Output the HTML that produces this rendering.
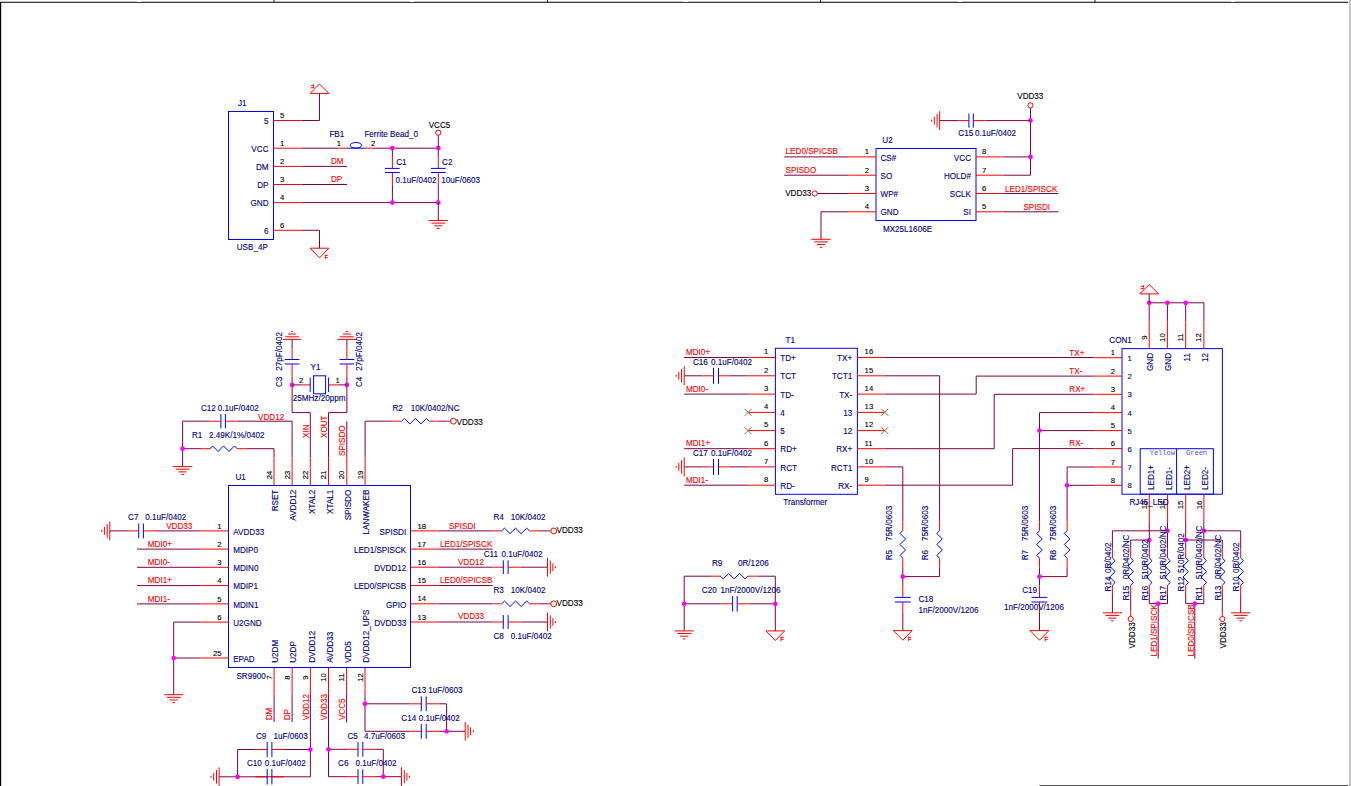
<!DOCTYPE html>
<html><head><meta charset="utf-8"><style>
html,body{margin:0;padding:0;background:#fff;overflow:hidden;}
svg{display:block;}
text{font-family:"Liberation Sans",sans-serif;}
</style></head><body>
<svg width="1351" height="786" viewBox="0 0 1351 786">
<rect width="1351" height="786" fill="#ffffff"/>
<rect x="0" y="1" width="1348" height="1" fill="#c4c4c4"/>
<rect x="0" y="2" width="1348" height="1" fill="#3a3a3a"/>
<rect x="137" y="1" width="4" height="1" fill="#ffffff"/>
<rect x="410" y="1" width="4" height="1" fill="#ffffff"/>
<rect x="683.5" y="1" width="4" height="1" fill="#ffffff"/>
<rect x="958" y="1" width="4" height="1" fill="#ffffff"/>
<rect x="1231" y="1" width="4" height="1" fill="#ffffff"/>
<line x1="0.5" y1="2" x2="0.5" y2="786" stroke="#000000" stroke-width="1.4"/>
<line x1="274" y1="0" x2="274" y2="2.5" stroke="#202020" stroke-width="1"/>
<line x1="547.5" y1="0" x2="547.5" y2="2.5" stroke="#202020" stroke-width="1"/>
<line x1="820.5" y1="0" x2="820.5" y2="2.5" stroke="#202020" stroke-width="1"/>
<line x1="1095" y1="0" x2="1095" y2="2.5" stroke="#202020" stroke-width="1"/>
<rect x="1349" y="0" width="2" height="786" fill="#c8c8c8"/>
<line x1="1039.5" y1="785.5" x2="1348" y2="785.5" stroke="#505050" stroke-width="1.2"/>
<rect x="228.5" y="111.5" width="45" height="128" fill="none" stroke="#0000ff" stroke-width="1"/>
<text transform="translate(238,105.8) scale(0.95,1)" fill="#000080" stroke="#000080" stroke-width="0.12" font-size="8.56">J1</text>
<text transform="translate(236.7,249.8) scale(0.95,1)" fill="#000080" stroke="#000080" stroke-width="0.12" font-size="8.56">USB_4P</text>
<line x1="274" y1="120.5" x2="301.5" y2="120.5" stroke="#ff0000" stroke-width="1"/>
<text transform="translate(280,118.0) scale(0.95,1)" fill="#000000" stroke="#000000" stroke-width="0.12" font-size="8.13">5</text>
<text transform="translate(268.5,124.1) scale(0.95,1)" fill="#000080" stroke="#000080" stroke-width="0.12" font-size="8.56" text-anchor="end">5</text>
<line x1="274" y1="148.2" x2="301.5" y2="148.2" stroke="#ff0000" stroke-width="1"/>
<text transform="translate(280,145.7) scale(0.95,1)" fill="#000000" stroke="#000000" stroke-width="0.12" font-size="8.13">1</text>
<text transform="translate(268.5,151.79999999999998) scale(0.95,1)" fill="#000080" stroke="#000080" stroke-width="0.12" font-size="8.56" text-anchor="end">VCC</text>
<line x1="274" y1="166.4" x2="301.5" y2="166.4" stroke="#ff0000" stroke-width="1"/>
<text transform="translate(280,163.9) scale(0.95,1)" fill="#000000" stroke="#000000" stroke-width="0.12" font-size="8.13">2</text>
<text transform="translate(268.5,170.0) scale(0.95,1)" fill="#000080" stroke="#000080" stroke-width="0.12" font-size="8.56" text-anchor="end">DM</text>
<line x1="274" y1="184.5" x2="301.5" y2="184.5" stroke="#ff0000" stroke-width="1"/>
<text transform="translate(280,182.0) scale(0.95,1)" fill="#000000" stroke="#000000" stroke-width="0.12" font-size="8.13">3</text>
<text transform="translate(268.5,188.1) scale(0.95,1)" fill="#000080" stroke="#000080" stroke-width="0.12" font-size="8.56" text-anchor="end">DP</text>
<line x1="274" y1="202.6" x2="301.5" y2="202.6" stroke="#ff0000" stroke-width="1"/>
<text transform="translate(280,200.1) scale(0.95,1)" fill="#000000" stroke="#000000" stroke-width="0.12" font-size="8.13">4</text>
<text transform="translate(268.5,206.2) scale(0.95,1)" fill="#000080" stroke="#000080" stroke-width="0.12" font-size="8.56" text-anchor="end">GND</text>
<line x1="274" y1="230.3" x2="301.5" y2="230.3" stroke="#ff0000" stroke-width="1"/>
<text transform="translate(280,227.8) scale(0.95,1)" fill="#000000" stroke="#000000" stroke-width="0.12" font-size="8.13">6</text>
<text transform="translate(268.5,233.9) scale(0.95,1)" fill="#000080" stroke="#000080" stroke-width="0.12" font-size="8.56" text-anchor="end">6</text>
<polyline points="301.5,120.5 319.5,120.5 319.5,93.4" fill="none" stroke="#800040" stroke-width="1"/>
<polygon points="310.1,93.4 328.9,93.4 319.5,84.0" fill="none" stroke="#ff0000" stroke-width="1"/>
<text transform="translate(314.5,84.4) rotate(180)" fill="#ff0000" font-size="6" stroke="#ff0000" stroke-width="0.3">F</text>
<polyline points="301.5,230.3 319.5,230.3 319.5,248.2" fill="none" stroke="#800040" stroke-width="1"/>
<polygon points="310.1,248.2 328.9,248.2 319.5,257.8" fill="none" stroke="#ff0000" stroke-width="1"/>
<text x="324.5" y="258.7" fill="#ff0000" font-size="6" stroke="#ff0000" stroke-width="0.3">F</text>
<line x1="301.5" y1="148.2" x2="337" y2="148.2" stroke="#800040" stroke-width="1"/>
<line x1="337" y1="148.2" x2="347" y2="148.2" stroke="#ff0000" stroke-width="1"/>
<line x1="347" y1="148.2" x2="365" y2="148.2" stroke="#0000ff" stroke-width="1"/>
<ellipse cx="355.9" cy="145.3" rx="5.7" ry="2.8" fill="none" stroke="#0000ff" stroke-width="1"/>
<line x1="365" y1="148.2" x2="375" y2="148.2" stroke="#ff0000" stroke-width="1"/>
<line x1="375" y1="148.2" x2="438.3" y2="148.2" stroke="#800040" stroke-width="1"/>
<text transform="translate(329.4,136.7) scale(0.95,1)" fill="#000080" stroke="#000080" stroke-width="0.12" font-size="8.56">FB1</text>
<text transform="translate(336.8,145.8) scale(0.95,1)" fill="#000000" stroke="#000000" stroke-width="0.12" font-size="8.13">1</text>
<text transform="translate(371,145.8) scale(0.95,1)" fill="#000000" stroke="#000000" stroke-width="0.12" font-size="8.13">2</text>
<text transform="translate(364.4,136.7) scale(0.95,1)" fill="#000080" stroke="#000080" stroke-width="0.12" font-size="8.56">Ferrite Bead_0</text>
<line x1="301.5" y1="166.4" x2="347" y2="166.4" stroke="#800040" stroke-width="1"/>
<text transform="translate(331,163.7) scale(0.95,1)" fill="#ff0000" stroke="#ff0000" stroke-width="0.12" font-size="8.56">DM</text>
<line x1="301.5" y1="184.5" x2="347" y2="184.5" stroke="#800040" stroke-width="1"/>
<text transform="translate(331,182.3) scale(0.95,1)" fill="#ff0000" stroke="#ff0000" stroke-width="0.12" font-size="8.56">DP</text>
<line x1="301.5" y1="202.6" x2="438.3" y2="202.6" stroke="#800040" stroke-width="1"/>
<line x1="392.4" y1="148.2" x2="392.4" y2="156" stroke="#800040" stroke-width="1"/>
<line x1="392.4" y1="156" x2="392.4" y2="168.4" stroke="#ff0000" stroke-width="1"/>
<line x1="385.0" y1="168.4" x2="399.79999999999995" y2="168.4" stroke="#0000ff" stroke-width="1"/>
<line x1="385.0" y1="172.5" x2="399.79999999999995" y2="172.5" stroke="#0000ff" stroke-width="1"/>
<line x1="392.4" y1="172.5" x2="392.4" y2="184.7" stroke="#ff0000" stroke-width="1"/>
<line x1="392.4" y1="184.7" x2="392.4" y2="202.6" stroke="#800040" stroke-width="1"/>
<circle cx="392.4" cy="148.2" r="2.35" fill="#ff00ff"/>
<circle cx="392.4" cy="202.6" r="2.35" fill="#ff00ff"/>
<text transform="translate(396.2,164.9) scale(0.95,1)" fill="#000080" stroke="#000080" stroke-width="0.12" font-size="8.56">C1</text>
<text transform="translate(395.4,182.8) scale(0.95,1)" fill="#000080" stroke="#000080" stroke-width="0.12" font-size="8.56">0.1uF/0402</text>
<line x1="438.3" y1="148.2" x2="438.3" y2="156" stroke="#800040" stroke-width="1"/>
<line x1="438.3" y1="156" x2="438.3" y2="168.4" stroke="#ff0000" stroke-width="1"/>
<line x1="430.90000000000003" y1="168.4" x2="445.7" y2="168.4" stroke="#0000ff" stroke-width="1"/>
<line x1="430.90000000000003" y1="172.5" x2="445.7" y2="172.5" stroke="#0000ff" stroke-width="1"/>
<line x1="438.3" y1="172.5" x2="438.3" y2="184.7" stroke="#ff0000" stroke-width="1"/>
<line x1="438.3" y1="184.7" x2="438.3" y2="202.6" stroke="#800040" stroke-width="1"/>
<circle cx="438.3" cy="148.2" r="2.35" fill="#ff00ff"/>
<circle cx="438.3" cy="202.6" r="2.35" fill="#ff00ff"/>
<text transform="translate(442.1,164.9) scale(0.95,1)" fill="#000080" stroke="#000080" stroke-width="0.12" font-size="8.56">C2</text>
<text transform="translate(441.3,182.8) scale(0.95,1)" fill="#000080" stroke="#000080" stroke-width="0.12" font-size="8.56">10uF/0603</text>
<line x1="438.3" y1="148.2" x2="438.3" y2="135.3" stroke="#800040" stroke-width="1"/>
<circle cx="438.3" cy="132.7" r="2.6" fill="none" stroke="#ff0000" stroke-width="1"/>
<text transform="translate(439.5,127.5) scale(0.95,1)" fill="#000000" stroke="#000000" stroke-width="0.12" font-size="8.56" text-anchor="middle">VCC5</text>
<line x1="438.3" y1="202.6" x2="438.3" y2="220.5" stroke="#800040" stroke-width="1"/>
<line x1="428.7" y1="220.5" x2="447.90000000000003" y2="220.5" stroke="#ff0000" stroke-width="1"/>
<line x1="431.40000000000003" y1="223.1" x2="445.2" y2="223.1" stroke="#ff0000" stroke-width="1"/>
<line x1="434.3" y1="225.8" x2="442.3" y2="225.8" stroke="#ff0000" stroke-width="1"/>
<line x1="437.0" y1="228.5" x2="439.6" y2="228.5" stroke="#ff0000" stroke-width="1"/>
<rect x="876" y="148.5" width="100" height="72" fill="none" stroke="#0000ff" stroke-width="1"/>
<text transform="translate(882.3,142.6) scale(0.95,1)" fill="#000080" stroke="#000080" stroke-width="0.12" font-size="8.56">U2</text>
<text transform="translate(882.9,231.6) scale(0.95,1)" fill="#000080" stroke="#000080" stroke-width="0.12" font-size="8.56">MX25L1606E</text>
<line x1="848.3" y1="156.9" x2="876" y2="156.9" stroke="#ff0000" stroke-width="1"/>
<text transform="translate(869,154.4) scale(0.95,1)" fill="#000000" stroke="#000000" stroke-width="0.12" font-size="8.13" text-anchor="end">1</text>
<text transform="translate(880.5,160.5) scale(0.95,1)" fill="#000080" stroke="#000080" stroke-width="0.12" font-size="8.56">CS#</text>
<line x1="848.3" y1="175.2" x2="876" y2="175.2" stroke="#ff0000" stroke-width="1"/>
<text transform="translate(869,172.7) scale(0.95,1)" fill="#000000" stroke="#000000" stroke-width="0.12" font-size="8.13" text-anchor="end">2</text>
<text transform="translate(880.5,178.79999999999998) scale(0.95,1)" fill="#000080" stroke="#000080" stroke-width="0.12" font-size="8.56">SO</text>
<line x1="848.3" y1="193.5" x2="876" y2="193.5" stroke="#ff0000" stroke-width="1"/>
<text transform="translate(869,191.0) scale(0.95,1)" fill="#000000" stroke="#000000" stroke-width="0.12" font-size="8.13" text-anchor="end">3</text>
<text transform="translate(880.5,197.1) scale(0.95,1)" fill="#000080" stroke="#000080" stroke-width="0.12" font-size="8.56">WP#</text>
<line x1="848.3" y1="211.8" x2="876" y2="211.8" stroke="#ff0000" stroke-width="1"/>
<text transform="translate(869,209.3) scale(0.95,1)" fill="#000000" stroke="#000000" stroke-width="0.12" font-size="8.13" text-anchor="end">4</text>
<text transform="translate(880.5,215.4) scale(0.95,1)" fill="#000080" stroke="#000080" stroke-width="0.12" font-size="8.56">GND</text>
<line x1="976" y1="156.9" x2="1003.5" y2="156.9" stroke="#ff0000" stroke-width="1"/>
<text transform="translate(982,154.4) scale(0.95,1)" fill="#000000" stroke="#000000" stroke-width="0.12" font-size="8.13">8</text>
<text transform="translate(971,160.5) scale(0.95,1)" fill="#000080" stroke="#000080" stroke-width="0.12" font-size="8.56" text-anchor="end">VCC</text>
<line x1="976" y1="175.2" x2="1003.5" y2="175.2" stroke="#ff0000" stroke-width="1"/>
<text transform="translate(982,172.7) scale(0.95,1)" fill="#000000" stroke="#000000" stroke-width="0.12" font-size="8.13">7</text>
<text transform="translate(971,178.79999999999998) scale(0.95,1)" fill="#000080" stroke="#000080" stroke-width="0.12" font-size="8.56" text-anchor="end">HOLD#</text>
<line x1="976" y1="193.5" x2="1003.5" y2="193.5" stroke="#ff0000" stroke-width="1"/>
<text transform="translate(982,191.0) scale(0.95,1)" fill="#000000" stroke="#000000" stroke-width="0.12" font-size="8.13">6</text>
<text transform="translate(971,197.1) scale(0.95,1)" fill="#000080" stroke="#000080" stroke-width="0.12" font-size="8.56" text-anchor="end">SCLK</text>
<line x1="976" y1="211.8" x2="1003.5" y2="211.8" stroke="#ff0000" stroke-width="1"/>
<text transform="translate(982,209.3) scale(0.95,1)" fill="#000000" stroke="#000000" stroke-width="0.12" font-size="8.13">5</text>
<text transform="translate(971,215.4) scale(0.95,1)" fill="#000080" stroke="#000080" stroke-width="0.12" font-size="8.56" text-anchor="end">SI</text>
<line x1="784.2" y1="156.9" x2="848.3" y2="156.9" stroke="#800040" stroke-width="1"/>
<text transform="translate(785.6,154.2) scale(0.95,1)" fill="#ff0000" stroke="#ff0000" stroke-width="0.12" font-size="8.56">LED0/SPICSB</text>
<line x1="784.2" y1="175.2" x2="848.3" y2="175.2" stroke="#800040" stroke-width="1"/>
<text transform="translate(785.6,172.5) scale(0.95,1)" fill="#ff0000" stroke="#ff0000" stroke-width="0.12" font-size="8.56">SPISDO</text>
<circle cx="814.7" cy="193.5" r="2.6" fill="none" stroke="#ff0000" stroke-width="1"/>
<line x1="817.3" y1="193.5" x2="848.3" y2="193.5" stroke="#800040" stroke-width="1"/>
<text transform="translate(785.2,196) scale(0.95,1)" fill="#000000" stroke="#000000" stroke-width="0.12" font-size="8.56">VDD33</text>
<polyline points="848.3,211.8 821,211.8 821,239.3" fill="none" stroke="#800040" stroke-width="1"/>
<line x1="811.4" y1="239.3" x2="830.6" y2="239.3" stroke="#ff0000" stroke-width="1"/>
<line x1="814.1" y1="241.9" x2="827.9" y2="241.9" stroke="#ff0000" stroke-width="1"/>
<line x1="817.0" y1="244.60000000000002" x2="825.0" y2="244.60000000000002" stroke="#ff0000" stroke-width="1"/>
<line x1="819.7" y1="247.3" x2="822.3" y2="247.3" stroke="#ff0000" stroke-width="1"/>
<line x1="1003.5" y1="156.9" x2="1030.5" y2="156.9" stroke="#800040" stroke-width="1"/>
<polyline points="1003.5,175.2 1030.5,175.2 1030.5,108" fill="none" stroke="#800040" stroke-width="1"/>
<circle cx="1030.5" cy="156.9" r="2.35" fill="#ff00ff"/>
<circle cx="1030.5" cy="120.6" r="2.35" fill="#ff00ff"/>
<circle cx="1030.5" cy="105.4" r="2.6" fill="none" stroke="#ff0000" stroke-width="1"/>
<text transform="translate(1030.3,98.8) scale(0.95,1)" fill="#000000" stroke="#000000" stroke-width="0.12" font-size="8.56" text-anchor="middle">VDD33</text>
<line x1="1003.5" y1="193.5" x2="1058.4" y2="193.5" stroke="#800040" stroke-width="1"/>
<text transform="translate(1005,191.9) scale(0.95,1)" fill="#ff0000" stroke="#ff0000" stroke-width="0.12" font-size="8.56">LED1/SPISCK</text>
<line x1="1003.5" y1="211.8" x2="1058.4" y2="211.8" stroke="#800040" stroke-width="1"/>
<text transform="translate(1023.4,209.6) scale(0.95,1)" fill="#ff0000" stroke="#ff0000" stroke-width="0.12" font-size="8.56">SPISDI</text>
<line x1="1030.5" y1="120.6" x2="985.5" y2="120.6" stroke="#800040" stroke-width="1"/>
<line x1="985.5" y1="120.6" x2="973.3" y2="120.6" stroke="#ff0000" stroke-width="1"/>
<line x1="968.9" y1="113.5" x2="968.9" y2="127.69999999999999" stroke="#0000ff" stroke-width="1"/>
<line x1="973.3" y1="113.5" x2="973.3" y2="127.69999999999999" stroke="#0000ff" stroke-width="1"/>
<line x1="968.9" y1="120.6" x2="957.7" y2="120.6" stroke="#ff0000" stroke-width="1"/>
<line x1="957.7" y1="120.6" x2="939.7" y2="120.6" stroke="#800040" stroke-width="1"/>
<line x1="939.7" y1="111.19999999999999" x2="939.7" y2="130.0" stroke="#ff0000" stroke-width="1"/>
<line x1="937.1" y1="113.8" x2="937.1" y2="127.39999999999999" stroke="#ff0000" stroke-width="1"/>
<line x1="934.3000000000001" y1="116.69999999999999" x2="934.3000000000001" y2="124.5" stroke="#ff0000" stroke-width="1"/>
<line x1="931.6" y1="119.6" x2="931.6" y2="121.6" stroke="#ff0000" stroke-width="1"/>
<text transform="translate(958.3,136.3) scale(0.95,1)" fill="#000080" stroke="#000080" stroke-width="0.12" font-size="8.56">C15</text>
<text transform="translate(975,136.3) scale(0.95,1)" fill="#000080" stroke="#000080" stroke-width="0.12" font-size="8.56">0.1uF/0402</text>
<rect x="228.5" y="485.5" width="182" height="182" fill="none" stroke="#0000ff" stroke-width="1"/>
<text transform="translate(235.5,479.7) scale(0.95,1)" fill="#000080" stroke="#000080" stroke-width="0.12" font-size="8.56">U1</text>
<text transform="translate(236.4,679.3) scale(0.95,1)" fill="#000080" stroke="#000080" stroke-width="0.12" font-size="8.56">SR9900</text>
<line x1="200.8" y1="530.9" x2="228.5" y2="530.9" stroke="#ff0000" stroke-width="1"/>
<text transform="translate(221.5,528.5) scale(0.95,1)" fill="#000000" stroke="#000000" stroke-width="0.12" font-size="8.13" text-anchor="end">1</text>
<text transform="translate(233.2,534.6) scale(0.95,1)" fill="#000080" stroke="#000080" stroke-width="0.12" font-size="8.56">AVDD33</text>
<line x1="200.8" y1="549.1" x2="228.5" y2="549.1" stroke="#ff0000" stroke-width="1"/>
<text transform="translate(221.5,546.7) scale(0.95,1)" fill="#000000" stroke="#000000" stroke-width="0.12" font-size="8.13" text-anchor="end">2</text>
<text transform="translate(233.2,552.8000000000001) scale(0.95,1)" fill="#000080" stroke="#000080" stroke-width="0.12" font-size="8.56">MDIP0</text>
<line x1="200.8" y1="567.3" x2="228.5" y2="567.3" stroke="#ff0000" stroke-width="1"/>
<text transform="translate(221.5,564.9) scale(0.95,1)" fill="#000000" stroke="#000000" stroke-width="0.12" font-size="8.13" text-anchor="end">3</text>
<text transform="translate(233.2,571.0) scale(0.95,1)" fill="#000080" stroke="#000080" stroke-width="0.12" font-size="8.56">MDIN0</text>
<line x1="200.8" y1="585.6" x2="228.5" y2="585.6" stroke="#ff0000" stroke-width="1"/>
<text transform="translate(221.5,583.2) scale(0.95,1)" fill="#000000" stroke="#000000" stroke-width="0.12" font-size="8.13" text-anchor="end">4</text>
<text transform="translate(233.2,589.3000000000001) scale(0.95,1)" fill="#000080" stroke="#000080" stroke-width="0.12" font-size="8.56">MDIP1</text>
<line x1="200.8" y1="603.9" x2="228.5" y2="603.9" stroke="#ff0000" stroke-width="1"/>
<text transform="translate(221.5,601.5) scale(0.95,1)" fill="#000000" stroke="#000000" stroke-width="0.12" font-size="8.13" text-anchor="end">5</text>
<text transform="translate(233.2,607.6) scale(0.95,1)" fill="#000080" stroke="#000080" stroke-width="0.12" font-size="8.56">MDIN1</text>
<line x1="200.8" y1="622.1" x2="228.5" y2="622.1" stroke="#ff0000" stroke-width="1"/>
<text transform="translate(221.5,619.7) scale(0.95,1)" fill="#000000" stroke="#000000" stroke-width="0.12" font-size="8.13" text-anchor="end">6</text>
<text transform="translate(233.2,625.8000000000001) scale(0.95,1)" fill="#000080" stroke="#000080" stroke-width="0.12" font-size="8.56">U2GND</text>
<line x1="200.8" y1="658" x2="228.5" y2="658" stroke="#ff0000" stroke-width="1"/>
<text transform="translate(221.5,655.6) scale(0.95,1)" fill="#000000" stroke="#000000" stroke-width="0.12" font-size="8.13" text-anchor="end">25</text>
<text transform="translate(233.2,661.7) scale(0.95,1)" fill="#000080" stroke="#000080" stroke-width="0.12" font-size="8.56">EPAD</text>
<line x1="411" y1="530.9" x2="438.3" y2="530.9" stroke="#ff0000" stroke-width="1"/>
<text transform="translate(417.5,528.5) scale(0.95,1)" fill="#000000" stroke="#000000" stroke-width="0.12" font-size="8.13">18</text>
<text transform="translate(406.2,534.6) scale(0.95,1)" fill="#000080" stroke="#000080" stroke-width="0.12" font-size="8.56" text-anchor="end">SPISDI</text>
<line x1="411" y1="549.1" x2="438.3" y2="549.1" stroke="#ff0000" stroke-width="1"/>
<text transform="translate(417.5,546.7) scale(0.95,1)" fill="#000000" stroke="#000000" stroke-width="0.12" font-size="8.13">17</text>
<text transform="translate(406.2,552.8000000000001) scale(0.95,1)" fill="#000080" stroke="#000080" stroke-width="0.12" font-size="8.56" text-anchor="end">LED1/SPISCK</text>
<line x1="411" y1="567.2" x2="438.3" y2="567.2" stroke="#ff0000" stroke-width="1"/>
<text transform="translate(417.5,564.8000000000001) scale(0.95,1)" fill="#000000" stroke="#000000" stroke-width="0.12" font-size="8.13">16</text>
<text transform="translate(406.2,570.9000000000001) scale(0.95,1)" fill="#000080" stroke="#000080" stroke-width="0.12" font-size="8.56" text-anchor="end">DVDD12</text>
<line x1="411" y1="585.5" x2="438.3" y2="585.5" stroke="#ff0000" stroke-width="1"/>
<text transform="translate(417.5,583.1) scale(0.95,1)" fill="#000000" stroke="#000000" stroke-width="0.12" font-size="8.13">15</text>
<text transform="translate(406.2,589.2) scale(0.95,1)" fill="#000080" stroke="#000080" stroke-width="0.12" font-size="8.56" text-anchor="end">LED0/SPICSB</text>
<line x1="411" y1="603.8" x2="438.3" y2="603.8" stroke="#ff0000" stroke-width="1"/>
<text transform="translate(417.5,601.4) scale(0.95,1)" fill="#000000" stroke="#000000" stroke-width="0.12" font-size="8.13">14</text>
<text transform="translate(406.2,607.5) scale(0.95,1)" fill="#000080" stroke="#000080" stroke-width="0.12" font-size="8.56" text-anchor="end">GPIO</text>
<line x1="411" y1="622" x2="438.3" y2="622" stroke="#ff0000" stroke-width="1"/>
<text transform="translate(417.5,619.6) scale(0.95,1)" fill="#000000" stroke="#000000" stroke-width="0.12" font-size="8.13">13</text>
<text transform="translate(406.2,625.7) scale(0.95,1)" fill="#000080" stroke="#000080" stroke-width="0.12" font-size="8.56" text-anchor="end">DVDD33</text>
<line x1="274" y1="457.4" x2="274" y2="485.5" stroke="#ff0000" stroke-width="1"/>
<text transform="translate(271.5,479.3) rotate(-90) scale(0.95,1)" fill="#000000" stroke="#000000" stroke-width="0.12" font-size="8.13">24</text>
<text transform="translate(278.2,489.7) rotate(-90) scale(0.95,1)" fill="#000080" stroke="#000080" stroke-width="0.12" font-size="8.56" text-anchor="end">RSET</text>
<line x1="292.1" y1="457.4" x2="292.1" y2="485.5" stroke="#ff0000" stroke-width="1"/>
<text transform="translate(289.6,479.3) rotate(-90) scale(0.95,1)" fill="#000000" stroke="#000000" stroke-width="0.12" font-size="8.13">23</text>
<text transform="translate(296.3,489.7) rotate(-90) scale(0.95,1)" fill="#000080" stroke="#000080" stroke-width="0.12" font-size="8.56" text-anchor="end">AVDD12</text>
<line x1="310.3" y1="457.4" x2="310.3" y2="485.5" stroke="#ff0000" stroke-width="1"/>
<text transform="translate(307.8,479.3) rotate(-90) scale(0.95,1)" fill="#000000" stroke="#000000" stroke-width="0.12" font-size="8.13">22</text>
<text transform="translate(314.5,489.7) rotate(-90) scale(0.95,1)" fill="#000080" stroke="#000080" stroke-width="0.12" font-size="8.56" text-anchor="end">XTAL2</text>
<line x1="328.5" y1="457.4" x2="328.5" y2="485.5" stroke="#ff0000" stroke-width="1"/>
<text transform="translate(326.0,479.3) rotate(-90) scale(0.95,1)" fill="#000000" stroke="#000000" stroke-width="0.12" font-size="8.13">21</text>
<text transform="translate(332.7,489.7) rotate(-90) scale(0.95,1)" fill="#000080" stroke="#000080" stroke-width="0.12" font-size="8.56" text-anchor="end">XTAL1</text>
<line x1="346.8" y1="457.4" x2="346.8" y2="485.5" stroke="#ff0000" stroke-width="1"/>
<text transform="translate(344.3,479.3) rotate(-90) scale(0.95,1)" fill="#000000" stroke="#000000" stroke-width="0.12" font-size="8.13">20</text>
<text transform="translate(351.0,489.7) rotate(-90) scale(0.95,1)" fill="#000080" stroke="#000080" stroke-width="0.12" font-size="8.56" text-anchor="end">SPISDO</text>
<line x1="365.1" y1="457.4" x2="365.1" y2="485.5" stroke="#ff0000" stroke-width="1"/>
<text transform="translate(362.6,479.3) rotate(-90) scale(0.95,1)" fill="#000000" stroke="#000000" stroke-width="0.12" font-size="8.13">19</text>
<text transform="translate(369.3,489.7) rotate(-90) scale(0.95,1)" fill="#000080" stroke="#000080" stroke-width="0.12" font-size="8.56" text-anchor="end">LANWAKEB</text>
<line x1="274.1" y1="667.5" x2="274.1" y2="695" stroke="#ff0000" stroke-width="1"/>
<text transform="translate(271.90000000000003,677.5) rotate(-90) scale(0.95,1)" fill="#000000" stroke="#000000" stroke-width="0.12" font-size="8.13" text-anchor="middle">7</text>
<text transform="translate(278.3,662.8) rotate(-90) scale(0.95,1)" fill="#000080" stroke="#000080" stroke-width="0.12" font-size="8.56">U2DM</text>
<line x1="292.1" y1="667.5" x2="292.1" y2="695" stroke="#ff0000" stroke-width="1"/>
<text transform="translate(289.90000000000003,677.5) rotate(-90) scale(0.95,1)" fill="#000000" stroke="#000000" stroke-width="0.12" font-size="8.13" text-anchor="middle">8</text>
<text transform="translate(296.3,662.8) rotate(-90) scale(0.95,1)" fill="#000080" stroke="#000080" stroke-width="0.12" font-size="8.56">U2DP</text>
<line x1="310.4" y1="667.5" x2="310.4" y2="695" stroke="#ff0000" stroke-width="1"/>
<text transform="translate(308.2,677.5) rotate(-90) scale(0.95,1)" fill="#000000" stroke="#000000" stroke-width="0.12" font-size="8.13" text-anchor="middle">9</text>
<text transform="translate(314.59999999999997,662.8) rotate(-90) scale(0.95,1)" fill="#000080" stroke="#000080" stroke-width="0.12" font-size="8.56">DVDD12</text>
<line x1="328.5" y1="667.5" x2="328.5" y2="695" stroke="#ff0000" stroke-width="1"/>
<text transform="translate(326.3,677.5) rotate(-90) scale(0.95,1)" fill="#000000" stroke="#000000" stroke-width="0.12" font-size="8.13" text-anchor="middle">10</text>
<text transform="translate(332.7,662.8) rotate(-90) scale(0.95,1)" fill="#000080" stroke="#000080" stroke-width="0.12" font-size="8.56">AVDD33</text>
<line x1="346.6" y1="667.5" x2="346.6" y2="695" stroke="#ff0000" stroke-width="1"/>
<text transform="translate(344.40000000000003,677.5) rotate(-90) scale(0.95,1)" fill="#000000" stroke="#000000" stroke-width="0.12" font-size="8.13" text-anchor="middle">11</text>
<text transform="translate(350.8,662.8) rotate(-90) scale(0.95,1)" fill="#000080" stroke="#000080" stroke-width="0.12" font-size="8.56">VDD5</text>
<line x1="365" y1="667.5" x2="365" y2="695" stroke="#ff0000" stroke-width="1"/>
<text transform="translate(362.8,677.5) rotate(-90) scale(0.95,1)" fill="#000000" stroke="#000000" stroke-width="0.12" font-size="8.13" text-anchor="middle">12</text>
<text transform="translate(369.2,662.8) rotate(-90) scale(0.95,1)" fill="#000080" stroke="#000080" stroke-width="0.12" font-size="8.56">DVDD12_UPS</text>
<line x1="200.8" y1="530.9" x2="156" y2="530.9" stroke="#800040" stroke-width="1"/>
<line x1="156" y1="530.9" x2="143.4" y2="530.9" stroke="#ff0000" stroke-width="1"/>
<line x1="138.7" y1="523.4499999999999" x2="138.7" y2="538.35" stroke="#0000ff" stroke-width="1"/>
<line x1="143.4" y1="523.4499999999999" x2="143.4" y2="538.35" stroke="#0000ff" stroke-width="1"/>
<line x1="138.7" y1="530.9" x2="128.1" y2="530.9" stroke="#ff0000" stroke-width="1"/>
<line x1="128.1" y1="530.9" x2="109.8" y2="530.9" stroke="#800040" stroke-width="1"/>
<line x1="109.8" y1="521.5" x2="109.8" y2="540.3" stroke="#ff0000" stroke-width="1"/>
<line x1="107.2" y1="524.1" x2="107.2" y2="537.6999999999999" stroke="#ff0000" stroke-width="1"/>
<line x1="104.39999999999999" y1="527.0" x2="104.39999999999999" y2="534.8" stroke="#ff0000" stroke-width="1"/>
<line x1="101.7" y1="529.9" x2="101.7" y2="531.9" stroke="#ff0000" stroke-width="1"/>
<text transform="translate(128.1,519.9) scale(0.95,1)" fill="#000080" stroke="#000080" stroke-width="0.12" font-size="8.56">C7</text>
<text transform="translate(145.2,519.9) scale(0.95,1)" fill="#000080" stroke="#000080" stroke-width="0.12" font-size="8.56">0.1uF/0402</text>
<text transform="translate(166.2,528.6) scale(0.95,1)" fill="#ff0000" stroke="#ff0000" stroke-width="0.12" font-size="8.56">VDD33</text>
<line x1="137" y1="549.1" x2="200.8" y2="549.1" stroke="#800040" stroke-width="1"/>
<text transform="translate(147.8,546.8000000000001) scale(0.95,1)" fill="#ff0000" stroke="#ff0000" stroke-width="0.12" font-size="8.56">MDI0+</text>
<line x1="137" y1="567.3" x2="200.8" y2="567.3" stroke="#800040" stroke-width="1"/>
<text transform="translate(147.8,565.0) scale(0.95,1)" fill="#ff0000" stroke="#ff0000" stroke-width="0.12" font-size="8.56">MDI0-</text>
<line x1="137" y1="585.6" x2="200.8" y2="585.6" stroke="#800040" stroke-width="1"/>
<text transform="translate(147.8,583.3000000000001) scale(0.95,1)" fill="#ff0000" stroke="#ff0000" stroke-width="0.12" font-size="8.56">MDI1+</text>
<line x1="137" y1="603.9" x2="200.8" y2="603.9" stroke="#800040" stroke-width="1"/>
<text transform="translate(147.8,601.6) scale(0.95,1)" fill="#ff0000" stroke="#ff0000" stroke-width="0.12" font-size="8.56">MDI1-</text>
<polyline points="200.8,622.1 173.7,622.1 173.7,694.7" fill="none" stroke="#800040" stroke-width="1"/>
<line x1="200.8" y1="658" x2="173.7" y2="658" stroke="#800040" stroke-width="1"/>
<circle cx="173.7" cy="658" r="2.35" fill="#ff00ff"/>
<line x1="164.1" y1="694.7" x2="183.29999999999998" y2="694.7" stroke="#ff0000" stroke-width="1"/>
<line x1="166.79999999999998" y1="697.3000000000001" x2="180.6" y2="697.3000000000001" stroke="#ff0000" stroke-width="1"/>
<line x1="169.7" y1="700.0" x2="177.7" y2="700.0" stroke="#ff0000" stroke-width="1"/>
<line x1="172.39999999999998" y1="702.7" x2="175.0" y2="702.7" stroke="#ff0000" stroke-width="1"/>
<polyline points="274,457.4 274,448.7 247,448.7" fill="none" stroke="#800040" stroke-width="1"/>
<line x1="247" y1="448.7" x2="237.2" y2="448.7" stroke="#ff0000" stroke-width="1"/>
<polyline points="209.9,448.7 212.63,445.95 218.09,451.45 223.55,445.95 229.01,451.45 234.47,445.95 237.20000000000002,448.7" fill="none" stroke="#0000ff" stroke-width="1"/>
<line x1="210.7" y1="448.7" x2="201" y2="448.7" stroke="#ff0000" stroke-width="1"/>
<line x1="201" y1="448.7" x2="182.6" y2="448.7" stroke="#800040" stroke-width="1"/>
<polyline points="292.1,457.4 292.1,421.2 237.2,421.2" fill="none" stroke="#800040" stroke-width="1"/>
<line x1="237.2" y1="421.2" x2="225.4" y2="421.2" stroke="#ff0000" stroke-width="1"/>
<line x1="220.9" y1="414.0" x2="220.9" y2="428.4" stroke="#0000ff" stroke-width="1"/>
<line x1="225.4" y1="414.0" x2="225.4" y2="428.4" stroke="#0000ff" stroke-width="1"/>
<line x1="220.9" y1="421.2" x2="209.7" y2="421.2" stroke="#ff0000" stroke-width="1"/>
<polyline points="209.7,421.2 182.6,421.2 182.6,466.6" fill="none" stroke="#800040" stroke-width="1"/>
<circle cx="182.6" cy="448.7" r="2.35" fill="#ff00ff"/>
<line x1="173.0" y1="466.6" x2="192.2" y2="466.6" stroke="#ff0000" stroke-width="1"/>
<line x1="175.7" y1="469.20000000000005" x2="189.5" y2="469.20000000000005" stroke="#ff0000" stroke-width="1"/>
<line x1="178.6" y1="471.90000000000003" x2="186.6" y2="471.90000000000003" stroke="#ff0000" stroke-width="1"/>
<line x1="181.29999999999998" y1="474.6" x2="183.9" y2="474.6" stroke="#ff0000" stroke-width="1"/>
<text transform="translate(201,410.6) scale(0.95,1)" fill="#000080" stroke="#000080" stroke-width="0.12" font-size="8.56">C12</text>
<text transform="translate(217.8,410.6) scale(0.95,1)" fill="#000080" stroke="#000080" stroke-width="0.12" font-size="8.56">0.1uF/0402</text>
<text transform="translate(258,419.7) scale(0.95,1)" fill="#ff0000" stroke="#ff0000" stroke-width="0.12" font-size="8.56">VDD12</text>
<text transform="translate(192,437.7) scale(0.95,1)" fill="#000080" stroke="#000080" stroke-width="0.12" font-size="8.56">R1</text>
<text transform="translate(209,437.7) scale(0.95,1)" fill="#000080" stroke="#000080" stroke-width="0.12" font-size="8.56">2.49K/1%/0402</text>
<polyline points="310.3,457.4 310.3,412.6 292.1,412.6 292.1,384.9" fill="none" stroke="#800040" stroke-width="1"/>
<polyline points="328.5,457.4 328.5,412.6 346.9,412.6 346.9,384.9" fill="none" stroke="#800040" stroke-width="1"/>
<text transform="translate(308.5,438) rotate(-90) scale(0.95,1)" fill="#ff0000" stroke="#ff0000" stroke-width="0.12" font-size="8.56">XIN</text>
<text transform="translate(327.4,438) rotate(-90) scale(0.95,1)" fill="#ff0000" stroke="#ff0000" stroke-width="0.12" font-size="8.56">XOUT</text>
<line x1="346.8" y1="457.4" x2="346.8" y2="421.2" stroke="#800040" stroke-width="1"/>
<text transform="translate(344.9,456) rotate(-90) scale(0.95,1)" fill="#ff0000" stroke="#ff0000" stroke-width="0.12" font-size="8.56">SPISDO</text>
<polyline points="365.1,457.4 365.1,421.2 392.4,421.2" fill="none" stroke="#800040" stroke-width="1"/>
<line x1="392.4" y1="421.2" x2="401.6" y2="421.2" stroke="#ff0000" stroke-width="1"/>
<polyline points="401.6,421.2 404.36,418.45 409.88,423.95 415.4,418.45 420.92,423.95 426.44,418.45 429.20000000000005,421.2" fill="none" stroke="#0000ff" stroke-width="1"/>
<line x1="429.2" y1="421.2" x2="438.2" y2="421.2" stroke="#ff0000" stroke-width="1"/>
<line x1="438.2" y1="421.2" x2="447.5" y2="421.2" stroke="#800040" stroke-width="1"/>
<line x1="447.5" y1="421.2" x2="450.6" y2="421.2" stroke="#ff0000" stroke-width="1"/>
<circle cx="453.4" cy="421.2" r="2.9" fill="none" stroke="#ff0000" stroke-width="1"/>
<text transform="translate(456.5,424.8) scale(0.95,1)" fill="#000000" stroke="#000000" stroke-width="0.12" font-size="8.56">VDD33</text>
<text transform="translate(392.4,410.6) scale(0.95,1)" fill="#000080" stroke="#000080" stroke-width="0.12" font-size="8.56">R2</text>
<text transform="translate(410.8,410.6) scale(0.95,1)" fill="#000080" stroke="#000080" stroke-width="0.12" font-size="8.56">10K/0402/NC</text>
<line x1="292.1" y1="339.4" x2="292.1" y2="348.7" stroke="#800040" stroke-width="1"/>
<line x1="292.1" y1="348.7" x2="292.1" y2="359.5" stroke="#ff0000" stroke-width="1"/>
<line x1="284.75" y1="359.5" x2="299.45000000000005" y2="359.5" stroke="#0000ff" stroke-width="1"/>
<line x1="284.75" y1="364" x2="299.45000000000005" y2="364" stroke="#0000ff" stroke-width="1"/>
<line x1="292.1" y1="364" x2="292.1" y2="376.4" stroke="#ff0000" stroke-width="1"/>
<line x1="292.1" y1="376.4" x2="292.1" y2="384.9" stroke="#800040" stroke-width="1"/>
<line x1="282.75" y1="339.4" x2="301.45000000000005" y2="339.4" stroke="#ff0000" stroke-width="1"/>
<line x1="285.3" y1="336.79999999999995" x2="298.90000000000003" y2="336.79999999999995" stroke="#ff0000" stroke-width="1"/>
<line x1="288.1" y1="334.0" x2="296.1" y2="334.0" stroke="#ff0000" stroke-width="1"/>
<line x1="291.1" y1="331.4" x2="293.1" y2="331.4" stroke="#ff0000" stroke-width="1"/>
<circle cx="292.1" cy="384.9" r="2.35" fill="#ff00ff"/>
<line x1="346.9" y1="339.4" x2="346.9" y2="348.7" stroke="#800040" stroke-width="1"/>
<line x1="346.9" y1="348.7" x2="346.9" y2="359.5" stroke="#ff0000" stroke-width="1"/>
<line x1="339.54999999999995" y1="359.5" x2="354.25" y2="359.5" stroke="#0000ff" stroke-width="1"/>
<line x1="339.54999999999995" y1="364" x2="354.25" y2="364" stroke="#0000ff" stroke-width="1"/>
<line x1="346.9" y1="364" x2="346.9" y2="376.4" stroke="#ff0000" stroke-width="1"/>
<line x1="346.9" y1="376.4" x2="346.9" y2="384.9" stroke="#800040" stroke-width="1"/>
<line x1="337.54999999999995" y1="339.4" x2="356.25" y2="339.4" stroke="#ff0000" stroke-width="1"/>
<line x1="340.09999999999997" y1="336.79999999999995" x2="353.7" y2="336.79999999999995" stroke="#ff0000" stroke-width="1"/>
<line x1="342.9" y1="334.0" x2="350.9" y2="334.0" stroke="#ff0000" stroke-width="1"/>
<line x1="345.9" y1="331.4" x2="347.9" y2="331.4" stroke="#ff0000" stroke-width="1"/>
<circle cx="346.9" cy="384.9" r="2.35" fill="#ff00ff"/>
<text transform="translate(282.2,387) rotate(-90) scale(0.95,1)" fill="#000080" stroke="#000080" stroke-width="0.12" font-size="8.56">C3</text>
<text transform="translate(282.2,370.8) rotate(-90) scale(0.95,1)" fill="#000080" stroke="#000080" stroke-width="0.12" font-size="8.56">27pF/0402</text>
<text transform="translate(361.8,387) rotate(-90) scale(0.95,1)" fill="#000080" stroke="#000080" stroke-width="0.12" font-size="8.56">C4</text>
<text transform="translate(361.8,370.8) rotate(-90) scale(0.95,1)" fill="#000080" stroke="#000080" stroke-width="0.12" font-size="8.56">27pF/0402</text>
<line x1="292.1" y1="384.9" x2="301.1" y2="384.9" stroke="#800040" stroke-width="1"/>
<line x1="301.1" y1="384.9" x2="310.2" y2="384.9" stroke="#ff0000" stroke-width="1"/>
<line x1="310.2" y1="377.5" x2="310.2" y2="392" stroke="#0000ff" stroke-width="1"/>
<rect x="313.6" y="375.8" width="12" height="18" fill="none" stroke="#0000ff" stroke-width="1"/>
<line x1="328.6" y1="377.5" x2="328.6" y2="392" stroke="#0000ff" stroke-width="1"/>
<line x1="328.6" y1="384.9" x2="337.8" y2="384.9" stroke="#ff0000" stroke-width="1"/>
<line x1="337.8" y1="384.9" x2="346.9" y2="384.9" stroke="#800040" stroke-width="1"/>
<text transform="translate(299,382.9) scale(0.95,1)" fill="#000000" stroke="#000000" stroke-width="0.12" font-size="8.13">2</text>
<text transform="translate(335.5,382.9) scale(0.95,1)" fill="#000000" stroke="#000000" stroke-width="0.12" font-size="8.13">1</text>
<text transform="translate(310.5,369.9) scale(0.95,1)" fill="#000080" stroke="#000080" stroke-width="0.12" font-size="8.56">Y1</text>
<text transform="translate(292.7,401.4) scale(0.95,1)" fill="#000080" stroke="#000080" stroke-width="0.12" font-size="8.56">25MHz/20ppm</text>
<line x1="274.1" y1="695" x2="274.1" y2="722" stroke="#800040" stroke-width="1"/>
<text transform="translate(272,720.3) rotate(-90) scale(0.95,1)" fill="#ff0000" stroke="#ff0000" stroke-width="0.12" font-size="8.56">DM</text>
<line x1="292.1" y1="695" x2="292.1" y2="722" stroke="#800040" stroke-width="1"/>
<text transform="translate(290,720.3) rotate(-90) scale(0.95,1)" fill="#ff0000" stroke="#ff0000" stroke-width="0.12" font-size="8.56">DP</text>
<polyline points="310.4,695 310.4,776.8 237.6,776.8 237.6,749.5 255.3,749.5" fill="none" stroke="#800040" stroke-width="1"/>
<text transform="translate(309,720.2) rotate(-90) scale(0.95,1)" fill="#ff0000" stroke="#ff0000" stroke-width="0.12" font-size="8.56">VDD12</text>
<line x1="255.3" y1="749.5" x2="267.2" y2="749.5" stroke="#ff0000" stroke-width="1"/>
<line x1="267.2" y1="741.8" x2="267.2" y2="757.2" stroke="#0000ff" stroke-width="1"/>
<line x1="271.9" y1="741.8" x2="271.9" y2="757.2" stroke="#0000ff" stroke-width="1"/>
<line x1="271.9" y1="749.5" x2="283.7" y2="749.5" stroke="#ff0000" stroke-width="1"/>
<line x1="283.7" y1="749.5" x2="310.4" y2="749.5" stroke="#800040" stroke-width="1"/>
<circle cx="310.4" cy="749.5" r="2.35" fill="#ff00ff"/>
<line x1="237.6" y1="776.8" x2="219.1" y2="776.8" stroke="#800040" stroke-width="1"/>
<circle cx="237.6" cy="776.8" r="2.35" fill="#ff00ff"/>
<line x1="219.1" y1="767.4" x2="219.1" y2="786.1999999999999" stroke="#ff0000" stroke-width="1"/>
<line x1="216.5" y1="770.0" x2="216.5" y2="783.5999999999999" stroke="#ff0000" stroke-width="1"/>
<line x1="213.7" y1="772.9" x2="213.7" y2="780.6999999999999" stroke="#ff0000" stroke-width="1"/>
<line x1="211.0" y1="775.8" x2="211.0" y2="777.8" stroke="#ff0000" stroke-width="1"/>
<line x1="255.3" y1="776.8" x2="267.2" y2="776.8" stroke="#ff0000" stroke-width="1"/>
<line x1="267.2" y1="769.0999999999999" x2="267.2" y2="784.5" stroke="#0000ff" stroke-width="1"/>
<line x1="271.9" y1="769.0999999999999" x2="271.9" y2="784.5" stroke="#0000ff" stroke-width="1"/>
<line x1="271.9" y1="776.8" x2="283.7" y2="776.8" stroke="#ff0000" stroke-width="1"/>
<text transform="translate(256,738.5) scale(0.95,1)" fill="#000080" stroke="#000080" stroke-width="0.12" font-size="8.56">C9</text>
<text transform="translate(273.5,738.5) scale(0.95,1)" fill="#000080" stroke="#000080" stroke-width="0.12" font-size="8.56">1uF/0603</text>
<text transform="translate(247,765.7) scale(0.95,1)" fill="#000080" stroke="#000080" stroke-width="0.12" font-size="8.56">C10</text>
<text transform="translate(264.8,765.7) scale(0.95,1)" fill="#000080" stroke="#000080" stroke-width="0.12" font-size="8.56">0.1uF/0402</text>
<polyline points="328.5,695 328.5,776.7 347,776.7" fill="none" stroke="#800040" stroke-width="1"/>
<text transform="translate(327.1,720.2) rotate(-90) scale(0.95,1)" fill="#ff0000" stroke="#ff0000" stroke-width="0.12" font-size="8.56">VDD33</text>
<line x1="328.5" y1="749.3" x2="347" y2="749.3" stroke="#800040" stroke-width="1"/>
<circle cx="328.5" cy="749.3" r="2.35" fill="#ff00ff"/>
<line x1="347" y1="749.3" x2="358" y2="749.3" stroke="#ff0000" stroke-width="1"/>
<line x1="358" y1="741.9" x2="358" y2="756.6999999999999" stroke="#0000ff" stroke-width="1"/>
<line x1="362.8" y1="741.9" x2="362.8" y2="756.6999999999999" stroke="#0000ff" stroke-width="1"/>
<line x1="362.8" y1="749.3" x2="374.4" y2="749.3" stroke="#ff0000" stroke-width="1"/>
<line x1="347" y1="776.7" x2="358" y2="776.7" stroke="#ff0000" stroke-width="1"/>
<line x1="358" y1="769.3000000000001" x2="358" y2="784.1" stroke="#0000ff" stroke-width="1"/>
<line x1="362.8" y1="769.3000000000001" x2="362.8" y2="784.1" stroke="#0000ff" stroke-width="1"/>
<line x1="362.8" y1="776.7" x2="374.4" y2="776.7" stroke="#ff0000" stroke-width="1"/>
<polyline points="374.4,749.3 383.3,749.3 383.3,776.7" fill="none" stroke="#800040" stroke-width="1"/>
<line x1="374.4" y1="776.7" x2="401.5" y2="776.7" stroke="#800040" stroke-width="1"/>
<circle cx="383.3" cy="776.7" r="2.35" fill="#ff00ff"/>
<line x1="401.5" y1="767.35" x2="401.5" y2="786.0500000000001" stroke="#ff0000" stroke-width="1"/>
<line x1="404.3" y1="770.0500000000001" x2="404.3" y2="783.35" stroke="#ff0000" stroke-width="1"/>
<line x1="406.9" y1="772.9000000000001" x2="406.9" y2="780.5" stroke="#ff0000" stroke-width="1"/>
<line x1="409.6" y1="775.7" x2="409.6" y2="777.7" stroke="#ff0000" stroke-width="1"/>
<text transform="translate(347.4,738.6) scale(0.95,1)" fill="#000080" stroke="#000080" stroke-width="0.12" font-size="8.56">C5</text>
<text transform="translate(363.9,738.6) scale(0.95,1)" fill="#000080" stroke="#000080" stroke-width="0.12" font-size="8.56">4.7uF/0603</text>
<text transform="translate(338.1,765.7) scale(0.95,1)" fill="#000080" stroke="#000080" stroke-width="0.12" font-size="8.56">C6</text>
<text transform="translate(355.4,765.7) scale(0.95,1)" fill="#000080" stroke="#000080" stroke-width="0.12" font-size="8.56">0.1uF/0402</text>
<line x1="346.6" y1="695" x2="346.6" y2="722.4" stroke="#800040" stroke-width="1"/>
<text transform="translate(345.2,720.1) rotate(-90) scale(0.95,1)" fill="#ff0000" stroke="#ff0000" stroke-width="0.12" font-size="8.56">VCC5</text>
<polyline points="365,695 365,731.3 410.3,731.3" fill="none" stroke="#800040" stroke-width="1"/>
<line x1="365" y1="703.8" x2="410.3" y2="703.8" stroke="#800040" stroke-width="1"/>
<circle cx="365" cy="703.8" r="2.35" fill="#ff00ff"/>
<line x1="410.3" y1="703.8" x2="421.3" y2="703.8" stroke="#ff0000" stroke-width="1"/>
<line x1="421.3" y1="696.4" x2="421.3" y2="711.1999999999999" stroke="#0000ff" stroke-width="1"/>
<line x1="426.2" y1="696.4" x2="426.2" y2="711.1999999999999" stroke="#0000ff" stroke-width="1"/>
<line x1="426.2" y1="703.8" x2="438.8" y2="703.8" stroke="#ff0000" stroke-width="1"/>
<line x1="410.3" y1="731.3" x2="421.3" y2="731.3" stroke="#ff0000" stroke-width="1"/>
<line x1="421.3" y1="723.9" x2="421.3" y2="738.6999999999999" stroke="#0000ff" stroke-width="1"/>
<line x1="426.2" y1="723.9" x2="426.2" y2="738.6999999999999" stroke="#0000ff" stroke-width="1"/>
<line x1="426.2" y1="731.3" x2="438.8" y2="731.3" stroke="#ff0000" stroke-width="1"/>
<polyline points="438.8,703.8 446.6,703.8 446.6,731.3" fill="none" stroke="#800040" stroke-width="1"/>
<line x1="438.8" y1="731.3" x2="465.2" y2="731.3" stroke="#800040" stroke-width="1"/>
<circle cx="446.6" cy="731.3" r="2.35" fill="#ff00ff"/>
<line x1="465.2" y1="721.9499999999999" x2="465.2" y2="740.65" stroke="#ff0000" stroke-width="1"/>
<line x1="468.0" y1="724.65" x2="468.0" y2="737.9499999999999" stroke="#ff0000" stroke-width="1"/>
<line x1="470.59999999999997" y1="727.5" x2="470.59999999999997" y2="735.0999999999999" stroke="#ff0000" stroke-width="1"/>
<line x1="473.3" y1="730.3" x2="473.3" y2="732.3" stroke="#ff0000" stroke-width="1"/>
<text transform="translate(411.4,692.8) scale(0.95,1)" fill="#000080" stroke="#000080" stroke-width="0.12" font-size="8.56">C13</text>
<text transform="translate(428.3,692.8) scale(0.95,1)" fill="#000080" stroke="#000080" stroke-width="0.12" font-size="8.56">1uF/0603</text>
<text transform="translate(401.3,720.9) scale(0.95,1)" fill="#000080" stroke="#000080" stroke-width="0.12" font-size="8.56">C14</text>
<text transform="translate(418.8,720.9) scale(0.95,1)" fill="#000080" stroke="#000080" stroke-width="0.12" font-size="8.56">0.1uF/0402</text>
<line x1="438.3" y1="530.9" x2="492.6" y2="530.9" stroke="#800040" stroke-width="1"/>
<line x1="438.3" y1="549.1" x2="492.6" y2="549.1" stroke="#800040" stroke-width="1"/>
<line x1="438.3" y1="567.2" x2="492.6" y2="567.2" stroke="#800040" stroke-width="1"/>
<line x1="438.3" y1="585.5" x2="492.6" y2="585.5" stroke="#800040" stroke-width="1"/>
<line x1="438.3" y1="603.8" x2="492.6" y2="603.8" stroke="#800040" stroke-width="1"/>
<line x1="438.3" y1="622" x2="492.6" y2="622" stroke="#800040" stroke-width="1"/>
<text transform="translate(449,528.9) scale(0.95,1)" fill="#ff0000" stroke="#ff0000" stroke-width="0.12" font-size="8.56">SPISDI</text>
<text transform="translate(440,546.8) scale(0.95,1)" fill="#ff0000" stroke="#ff0000" stroke-width="0.12" font-size="8.56">LED1/SPISCK</text>
<text transform="translate(457.9,564.6) scale(0.95,1)" fill="#ff0000" stroke="#ff0000" stroke-width="0.12" font-size="8.56">VDD12</text>
<text transform="translate(440,583.3) scale(0.95,1)" fill="#ff0000" stroke="#ff0000" stroke-width="0.12" font-size="8.56">LED0/SPICSB</text>
<text transform="translate(457.9,619.4) scale(0.95,1)" fill="#ff0000" stroke="#ff0000" stroke-width="0.12" font-size="8.56">VDD33</text>
<line x1="492.6" y1="530.9" x2="501.7" y2="530.9" stroke="#ff0000" stroke-width="1"/>
<polyline points="501.7,530.9 504.48,528.15 510.04,533.65 515.6,528.15 521.16,533.65 526.72,528.15 529.5,530.9" fill="none" stroke="#0000ff" stroke-width="1"/>
<line x1="529.5" y1="530.9" x2="538.4" y2="530.9" stroke="#ff0000" stroke-width="1"/>
<line x1="538.4" y1="530.9" x2="547.6" y2="530.9" stroke="#800040" stroke-width="1"/>
<line x1="547.6" y1="530.9" x2="550.8" y2="530.9" stroke="#ff0000" stroke-width="1"/>
<circle cx="553.7" cy="530.9" r="2.9" fill="none" stroke="#ff0000" stroke-width="1"/>
<text transform="translate(556.6,533.1999999999999) scale(0.95,1)" fill="#000000" stroke="#000000" stroke-width="0.12" font-size="8.56">VDD33</text>
<text transform="translate(493.5,519.6) scale(0.95,1)" fill="#000080" stroke="#000080" stroke-width="0.12" font-size="8.56">R4</text>
<text transform="translate(510.8,519.6) scale(0.95,1)" fill="#000080" stroke="#000080" stroke-width="0.12" font-size="8.56">10K/0402</text>
<line x1="492.6" y1="603.8" x2="501.7" y2="603.8" stroke="#ff0000" stroke-width="1"/>
<polyline points="501.7,603.8 504.48,601.05 510.04,606.55 515.6,601.05 521.16,606.55 526.72,601.05 529.5,603.8" fill="none" stroke="#0000ff" stroke-width="1"/>
<line x1="529.5" y1="603.8" x2="538.4" y2="603.8" stroke="#ff0000" stroke-width="1"/>
<line x1="538.4" y1="603.8" x2="547.6" y2="603.8" stroke="#800040" stroke-width="1"/>
<line x1="547.6" y1="603.8" x2="550.8" y2="603.8" stroke="#ff0000" stroke-width="1"/>
<circle cx="553.7" cy="603.8" r="2.9" fill="none" stroke="#ff0000" stroke-width="1"/>
<text transform="translate(556.6,606.0999999999999) scale(0.95,1)" fill="#000000" stroke="#000000" stroke-width="0.12" font-size="8.56">VDD33</text>
<text transform="translate(493.5,592.6) scale(0.95,1)" fill="#000080" stroke="#000080" stroke-width="0.12" font-size="8.56">R3</text>
<text transform="translate(510.8,592.6) scale(0.95,1)" fill="#000080" stroke="#000080" stroke-width="0.12" font-size="8.56">10K/0402</text>
<line x1="492.6" y1="567.2" x2="503.3" y2="567.2" stroke="#ff0000" stroke-width="1"/>
<line x1="503.3" y1="560.3000000000001" x2="503.3" y2="574.1" stroke="#0000ff" stroke-width="1"/>
<line x1="508.1" y1="560.3000000000001" x2="508.1" y2="574.1" stroke="#0000ff" stroke-width="1"/>
<line x1="508.1" y1="567.2" x2="520.7" y2="567.2" stroke="#ff0000" stroke-width="1"/>
<line x1="520.7" y1="567.2" x2="547.5" y2="567.2" stroke="#800040" stroke-width="1"/>
<line x1="547.5" y1="557.85" x2="547.5" y2="576.5500000000001" stroke="#ff0000" stroke-width="1"/>
<line x1="550.3" y1="560.5500000000001" x2="550.3" y2="573.85" stroke="#ff0000" stroke-width="1"/>
<line x1="552.9" y1="563.4000000000001" x2="552.9" y2="571.0" stroke="#ff0000" stroke-width="1"/>
<line x1="555.6" y1="566.2" x2="555.6" y2="568.2" stroke="#ff0000" stroke-width="1"/>
<line x1="492.6" y1="622" x2="503.3" y2="622" stroke="#ff0000" stroke-width="1"/>
<line x1="503.3" y1="615.1" x2="503.3" y2="628.9" stroke="#0000ff" stroke-width="1"/>
<line x1="508.1" y1="615.1" x2="508.1" y2="628.9" stroke="#0000ff" stroke-width="1"/>
<line x1="508.1" y1="622" x2="520.7" y2="622" stroke="#ff0000" stroke-width="1"/>
<line x1="520.7" y1="622" x2="547.5" y2="622" stroke="#800040" stroke-width="1"/>
<line x1="547.5" y1="612.65" x2="547.5" y2="631.35" stroke="#ff0000" stroke-width="1"/>
<line x1="550.3" y1="615.35" x2="550.3" y2="628.65" stroke="#ff0000" stroke-width="1"/>
<line x1="552.9" y1="618.2" x2="552.9" y2="625.8" stroke="#ff0000" stroke-width="1"/>
<line x1="555.6" y1="621.0" x2="555.6" y2="623.0" stroke="#ff0000" stroke-width="1"/>
<text transform="translate(483.7,556.6) scale(0.95,1)" fill="#000080" stroke="#000080" stroke-width="0.12" font-size="8.56">C11</text>
<text transform="translate(501.5,556.6) scale(0.95,1)" fill="#000080" stroke="#000080" stroke-width="0.12" font-size="8.56">0.1uF/0402</text>
<text transform="translate(493.5,638.6) scale(0.95,1)" fill="#000080" stroke="#000080" stroke-width="0.12" font-size="8.56">C8</text>
<text transform="translate(510.8,638.6) scale(0.95,1)" fill="#000080" stroke="#000080" stroke-width="0.12" font-size="8.56">0.1uF/0402</text>
<rect x="775.4" y="348.3" width="82" height="146" fill="none" stroke="#0000ff" stroke-width="1"/>
<text transform="translate(785.6,342.6) scale(0.95,1)" fill="#000080" stroke="#000080" stroke-width="0.12" font-size="8.56">T1</text>
<text transform="translate(783.3,505.1) scale(0.95,1)" fill="#000080" stroke="#000080" stroke-width="0.12" font-size="8.56">Transformer</text>
<line x1="747.8" y1="357.5" x2="775.4" y2="357.5" stroke="#ff0000" stroke-width="1"/>
<text transform="translate(768.3,354.3) scale(0.95,1)" fill="#000000" stroke="#000000" stroke-width="0.12" font-size="8.13" text-anchor="end">1</text>
<text transform="translate(780.3,361.1) scale(0.95,1)" fill="#000080" stroke="#000080" stroke-width="0.12" font-size="8.56">TD+</text>
<line x1="857.4" y1="357.5" x2="884.8" y2="357.5" stroke="#ff0000" stroke-width="1"/>
<text transform="translate(864.6,354.3) scale(0.95,1)" fill="#000000" stroke="#000000" stroke-width="0.12" font-size="8.13">16</text>
<text transform="translate(852.2,361.1) scale(0.95,1)" fill="#000080" stroke="#000080" stroke-width="0.12" font-size="8.56" text-anchor="end">TX+</text>
<line x1="747.8" y1="375.8" x2="775.4" y2="375.8" stroke="#ff0000" stroke-width="1"/>
<text transform="translate(768.3,372.6) scale(0.95,1)" fill="#000000" stroke="#000000" stroke-width="0.12" font-size="8.13" text-anchor="end">2</text>
<text transform="translate(780.3,379.40000000000003) scale(0.95,1)" fill="#000080" stroke="#000080" stroke-width="0.12" font-size="8.56">TCT</text>
<line x1="857.4" y1="375.8" x2="884.8" y2="375.8" stroke="#ff0000" stroke-width="1"/>
<text transform="translate(864.6,372.6) scale(0.95,1)" fill="#000000" stroke="#000000" stroke-width="0.12" font-size="8.13">15</text>
<text transform="translate(852.2,379.40000000000003) scale(0.95,1)" fill="#000080" stroke="#000080" stroke-width="0.12" font-size="8.56" text-anchor="end">TCT1</text>
<line x1="747.8" y1="394.1" x2="775.4" y2="394.1" stroke="#ff0000" stroke-width="1"/>
<text transform="translate(768.3,390.90000000000003) scale(0.95,1)" fill="#000000" stroke="#000000" stroke-width="0.12" font-size="8.13" text-anchor="end">3</text>
<text transform="translate(780.3,397.70000000000005) scale(0.95,1)" fill="#000080" stroke="#000080" stroke-width="0.12" font-size="8.56">TD-</text>
<line x1="857.4" y1="394.1" x2="884.8" y2="394.1" stroke="#ff0000" stroke-width="1"/>
<text transform="translate(864.6,390.90000000000003) scale(0.95,1)" fill="#000000" stroke="#000000" stroke-width="0.12" font-size="8.13">14</text>
<text transform="translate(852.2,397.70000000000005) scale(0.95,1)" fill="#000080" stroke="#000080" stroke-width="0.12" font-size="8.56" text-anchor="end">TX-</text>
<line x1="747.8" y1="412.4" x2="775.4" y2="412.4" stroke="#ff0000" stroke-width="1"/>
<text transform="translate(768.3,409.2) scale(0.95,1)" fill="#000000" stroke="#000000" stroke-width="0.12" font-size="8.13" text-anchor="end">4</text>
<text transform="translate(780.3,416.0) scale(0.95,1)" fill="#000080" stroke="#000080" stroke-width="0.12" font-size="8.56">4</text>
<line x1="857.4" y1="412.4" x2="884.8" y2="412.4" stroke="#ff0000" stroke-width="1"/>
<text transform="translate(864.6,409.2) scale(0.95,1)" fill="#000000" stroke="#000000" stroke-width="0.12" font-size="8.13">13</text>
<text transform="translate(852.2,416.0) scale(0.95,1)" fill="#000080" stroke="#000080" stroke-width="0.12" font-size="8.56" text-anchor="end">13</text>
<line x1="747.8" y1="430.6" x2="775.4" y2="430.6" stroke="#ff0000" stroke-width="1"/>
<text transform="translate(768.3,427.40000000000003) scale(0.95,1)" fill="#000000" stroke="#000000" stroke-width="0.12" font-size="8.13" text-anchor="end">5</text>
<text transform="translate(780.3,434.20000000000005) scale(0.95,1)" fill="#000080" stroke="#000080" stroke-width="0.12" font-size="8.56">5</text>
<line x1="857.4" y1="430.6" x2="884.8" y2="430.6" stroke="#ff0000" stroke-width="1"/>
<text transform="translate(864.6,427.40000000000003) scale(0.95,1)" fill="#000000" stroke="#000000" stroke-width="0.12" font-size="8.13">12</text>
<text transform="translate(852.2,434.20000000000005) scale(0.95,1)" fill="#000080" stroke="#000080" stroke-width="0.12" font-size="8.56" text-anchor="end">12</text>
<line x1="747.8" y1="448.7" x2="775.4" y2="448.7" stroke="#ff0000" stroke-width="1"/>
<text transform="translate(768.3,445.5) scale(0.95,1)" fill="#000000" stroke="#000000" stroke-width="0.12" font-size="8.13" text-anchor="end">6</text>
<text transform="translate(780.3,452.3) scale(0.95,1)" fill="#000080" stroke="#000080" stroke-width="0.12" font-size="8.56">RD+</text>
<line x1="857.4" y1="448.7" x2="884.8" y2="448.7" stroke="#ff0000" stroke-width="1"/>
<text transform="translate(864.6,445.5) scale(0.95,1)" fill="#000000" stroke="#000000" stroke-width="0.12" font-size="8.13">11</text>
<text transform="translate(852.2,452.3) scale(0.95,1)" fill="#000080" stroke="#000080" stroke-width="0.12" font-size="8.56" text-anchor="end">RX+</text>
<line x1="747.8" y1="466.9" x2="775.4" y2="466.9" stroke="#ff0000" stroke-width="1"/>
<text transform="translate(768.3,463.7) scale(0.95,1)" fill="#000000" stroke="#000000" stroke-width="0.12" font-size="8.13" text-anchor="end">7</text>
<text transform="translate(780.3,470.5) scale(0.95,1)" fill="#000080" stroke="#000080" stroke-width="0.12" font-size="8.56">RCT</text>
<line x1="857.4" y1="466.9" x2="884.8" y2="466.9" stroke="#ff0000" stroke-width="1"/>
<text transform="translate(864.6,463.7) scale(0.95,1)" fill="#000000" stroke="#000000" stroke-width="0.12" font-size="8.13">10</text>
<text transform="translate(852.2,470.5) scale(0.95,1)" fill="#000080" stroke="#000080" stroke-width="0.12" font-size="8.56" text-anchor="end">RCT1</text>
<line x1="747.8" y1="485.2" x2="775.4" y2="485.2" stroke="#ff0000" stroke-width="1"/>
<text transform="translate(768.3,482.0) scale(0.95,1)" fill="#000000" stroke="#000000" stroke-width="0.12" font-size="8.13" text-anchor="end">8</text>
<text transform="translate(780.3,488.8) scale(0.95,1)" fill="#000080" stroke="#000080" stroke-width="0.12" font-size="8.56">RD-</text>
<line x1="857.4" y1="485.2" x2="884.8" y2="485.2" stroke="#ff0000" stroke-width="1"/>
<text transform="translate(864.6,482.0) scale(0.95,1)" fill="#000000" stroke="#000000" stroke-width="0.12" font-size="8.13">9</text>
<text transform="translate(852.2,488.8) scale(0.95,1)" fill="#000080" stroke="#000080" stroke-width="0.12" font-size="8.56" text-anchor="end">RX-</text>
<line x1="744.6" y1="408.9" x2="751.6" y2="415.9" stroke="#9b6a3c" stroke-width="1"/>
<line x1="744.6" y1="415.9" x2="751.6" y2="408.9" stroke="#9b6a3c" stroke-width="1"/>
<line x1="744.6" y1="427.1" x2="751.6" y2="434.1" stroke="#9b6a3c" stroke-width="1"/>
<line x1="744.6" y1="434.1" x2="751.6" y2="427.1" stroke="#9b6a3c" stroke-width="1"/>
<line x1="881.3" y1="408.9" x2="888.3" y2="415.9" stroke="#9b6a3c" stroke-width="1"/>
<line x1="881.3" y1="415.9" x2="888.3" y2="408.9" stroke="#9b6a3c" stroke-width="1"/>
<line x1="881.3" y1="427.1" x2="888.3" y2="434.1" stroke="#9b6a3c" stroke-width="1"/>
<line x1="881.3" y1="434.1" x2="888.3" y2="427.1" stroke="#9b6a3c" stroke-width="1"/>
<line x1="684.2" y1="357.5" x2="747.8" y2="357.5" stroke="#800040" stroke-width="1"/>
<text transform="translate(686,355.1) scale(0.95,1)" fill="#ff0000" stroke="#ff0000" stroke-width="0.12" font-size="8.56">MDI0+</text>
<line x1="684.2" y1="394.1" x2="747.8" y2="394.1" stroke="#800040" stroke-width="1"/>
<text transform="translate(686,391.70000000000005) scale(0.95,1)" fill="#ff0000" stroke="#ff0000" stroke-width="0.12" font-size="8.56">MDI0-</text>
<line x1="684.2" y1="448.7" x2="747.8" y2="448.7" stroke="#800040" stroke-width="1"/>
<text transform="translate(686,446.3) scale(0.95,1)" fill="#ff0000" stroke="#ff0000" stroke-width="0.12" font-size="8.56">MDI1+</text>
<line x1="684.2" y1="485.2" x2="747.8" y2="485.2" stroke="#800040" stroke-width="1"/>
<text transform="translate(686,482.8) scale(0.95,1)" fill="#ff0000" stroke="#ff0000" stroke-width="0.12" font-size="8.56">MDI1-</text>
<line x1="747.8" y1="375.8" x2="730" y2="375.8" stroke="#800040" stroke-width="1"/>
<line x1="730" y1="375.8" x2="718.5" y2="375.8" stroke="#ff0000" stroke-width="1"/>
<line x1="713.5" y1="367.8" x2="713.5" y2="383.8" stroke="#0000ff" stroke-width="1"/>
<line x1="718.5" y1="367.8" x2="718.5" y2="383.8" stroke="#0000ff" stroke-width="1"/>
<line x1="713.5" y1="375.8" x2="702.5" y2="375.8" stroke="#ff0000" stroke-width="1"/>
<line x1="702.5" y1="375.8" x2="684.2" y2="375.8" stroke="#800040" stroke-width="1"/>
<line x1="684.2" y1="366.40000000000003" x2="684.2" y2="385.2" stroke="#ff0000" stroke-width="1"/>
<line x1="681.6" y1="369.0" x2="681.6" y2="382.6" stroke="#ff0000" stroke-width="1"/>
<line x1="678.8000000000001" y1="371.90000000000003" x2="678.8000000000001" y2="379.7" stroke="#ff0000" stroke-width="1"/>
<line x1="676.1" y1="374.8" x2="676.1" y2="376.8" stroke="#ff0000" stroke-width="1"/>
<text transform="translate(692.9,364.8) scale(0.95,1)" fill="#000080" stroke="#000080" stroke-width="0.12" font-size="8.56">C16</text>
<text transform="translate(710.9,364.8) scale(0.95,1)" fill="#000080" stroke="#000080" stroke-width="0.12" font-size="8.56">0.1uF/0402</text>
<line x1="747.8" y1="466.9" x2="730" y2="466.9" stroke="#800040" stroke-width="1"/>
<line x1="730" y1="466.9" x2="718.5" y2="466.9" stroke="#ff0000" stroke-width="1"/>
<line x1="713.5" y1="458.9" x2="713.5" y2="474.9" stroke="#0000ff" stroke-width="1"/>
<line x1="718.5" y1="458.9" x2="718.5" y2="474.9" stroke="#0000ff" stroke-width="1"/>
<line x1="713.5" y1="466.9" x2="702.5" y2="466.9" stroke="#ff0000" stroke-width="1"/>
<line x1="702.5" y1="466.9" x2="684.2" y2="466.9" stroke="#800040" stroke-width="1"/>
<line x1="684.2" y1="457.5" x2="684.2" y2="476.29999999999995" stroke="#ff0000" stroke-width="1"/>
<line x1="681.6" y1="460.09999999999997" x2="681.6" y2="473.7" stroke="#ff0000" stroke-width="1"/>
<line x1="678.8000000000001" y1="463.0" x2="678.8000000000001" y2="470.79999999999995" stroke="#ff0000" stroke-width="1"/>
<line x1="676.1" y1="465.9" x2="676.1" y2="467.9" stroke="#ff0000" stroke-width="1"/>
<text transform="translate(692.9,455.9) scale(0.95,1)" fill="#000080" stroke="#000080" stroke-width="0.12" font-size="8.56">C17</text>
<text transform="translate(710.9,455.9) scale(0.95,1)" fill="#000080" stroke="#000080" stroke-width="0.12" font-size="8.56">0.1uF/0402</text>
<line x1="884.8" y1="357.5" x2="1094.1" y2="357.5" stroke="#800040" stroke-width="1"/>
<polyline points="884.8,375.8 939.6,375.8 939.6,521.6" fill="none" stroke="#800040" stroke-width="1"/>
<polyline points="884.8,394.1 976.2,394.1 976.2,376.1 1094.1,376.1" fill="none" stroke="#800040" stroke-width="1"/>
<polyline points="884.8,448.7 994.2,448.7 994.2,394.3 1094.1,394.3" fill="none" stroke="#800040" stroke-width="1"/>
<polyline points="884.8,466.9 902.8,466.9 902.8,521.6" fill="none" stroke="#800040" stroke-width="1"/>
<polyline points="884.8,485.2 1012.6,485.2 1012.6,448.6 1094.1,448.6" fill="none" stroke="#800040" stroke-width="1"/>
<polyline points="1094.1,412.6 1039.5,412.6 1039.5,521.6" fill="none" stroke="#800040" stroke-width="1"/>
<line x1="1094.1" y1="430.6" x2="1039.5" y2="430.6" stroke="#800040" stroke-width="1"/>
<circle cx="1039.5" cy="430.6" r="2.35" fill="#ff00ff"/>
<polyline points="1094.1,467 1067.1,467 1067.1,521.6" fill="none" stroke="#800040" stroke-width="1"/>
<line x1="1094.1" y1="485.3" x2="1067.1" y2="485.3" stroke="#800040" stroke-width="1"/>
<circle cx="1067.1" cy="485.3" r="2.35" fill="#ff00ff"/>
<text transform="translate(1069.3,355.5) scale(0.95,1)" fill="#ff0000" stroke="#ff0000" stroke-width="0.12" font-size="8.56">TX+</text>
<text transform="translate(1069.3,373.8) scale(0.95,1)" fill="#ff0000" stroke="#ff0000" stroke-width="0.12" font-size="8.56">TX-</text>
<text transform="translate(1069.3,392) scale(0.95,1)" fill="#ff0000" stroke="#ff0000" stroke-width="0.12" font-size="8.56">RX+</text>
<text transform="translate(1069.3,446.2) scale(0.95,1)" fill="#ff0000" stroke="#ff0000" stroke-width="0.12" font-size="8.56">RX-</text>
<rect x="1122" y="348.6" width="100.4" height="145.6" fill="none" stroke="#0000ff" stroke-width="1"/>
<text transform="translate(1109.3,342.5) scale(0.95,1)" fill="#000080" stroke="#000080" stroke-width="0.12" font-size="8.56">CON1</text>
<line x1="1094.1" y1="357.7" x2="1122" y2="357.7" stroke="#ff0000" stroke-width="1"/>
<text transform="translate(1115,355.3) scale(0.95,1)" fill="#000000" stroke="#000000" stroke-width="0.12" font-size="8.13" text-anchor="end">1</text>
<text transform="translate(1127.5,360.59999999999997) scale(0.95,1)" fill="#000080" stroke="#000080" stroke-width="0.12" font-size="8.13">1</text>
<line x1="1094.1" y1="376.1" x2="1122" y2="376.1" stroke="#ff0000" stroke-width="1"/>
<text transform="translate(1115,373.70000000000005) scale(0.95,1)" fill="#000000" stroke="#000000" stroke-width="0.12" font-size="8.13" text-anchor="end">2</text>
<text transform="translate(1127.5,379.0) scale(0.95,1)" fill="#000080" stroke="#000080" stroke-width="0.12" font-size="8.13">2</text>
<line x1="1094.1" y1="394.3" x2="1122" y2="394.3" stroke="#ff0000" stroke-width="1"/>
<text transform="translate(1115,391.90000000000003) scale(0.95,1)" fill="#000000" stroke="#000000" stroke-width="0.12" font-size="8.13" text-anchor="end">3</text>
<text transform="translate(1127.5,397.2) scale(0.95,1)" fill="#000080" stroke="#000080" stroke-width="0.12" font-size="8.13">3</text>
<line x1="1094.1" y1="412.6" x2="1122" y2="412.6" stroke="#ff0000" stroke-width="1"/>
<text transform="translate(1115,410.20000000000005) scale(0.95,1)" fill="#000000" stroke="#000000" stroke-width="0.12" font-size="8.13" text-anchor="end">4</text>
<text transform="translate(1127.5,415.5) scale(0.95,1)" fill="#000080" stroke="#000080" stroke-width="0.12" font-size="8.13">4</text>
<line x1="1094.1" y1="430.6" x2="1122" y2="430.6" stroke="#ff0000" stroke-width="1"/>
<text transform="translate(1115,428.20000000000005) scale(0.95,1)" fill="#000000" stroke="#000000" stroke-width="0.12" font-size="8.13" text-anchor="end">5</text>
<text transform="translate(1127.5,433.5) scale(0.95,1)" fill="#000080" stroke="#000080" stroke-width="0.12" font-size="8.13">5</text>
<line x1="1094.1" y1="448.6" x2="1122" y2="448.6" stroke="#ff0000" stroke-width="1"/>
<text transform="translate(1115,446.20000000000005) scale(0.95,1)" fill="#000000" stroke="#000000" stroke-width="0.12" font-size="8.13" text-anchor="end">6</text>
<text transform="translate(1127.5,451.5) scale(0.95,1)" fill="#000080" stroke="#000080" stroke-width="0.12" font-size="8.13">6</text>
<line x1="1094.1" y1="467" x2="1122" y2="467" stroke="#ff0000" stroke-width="1"/>
<text transform="translate(1115,464.6) scale(0.95,1)" fill="#000000" stroke="#000000" stroke-width="0.12" font-size="8.13" text-anchor="end">7</text>
<text transform="translate(1127.5,469.9) scale(0.95,1)" fill="#000080" stroke="#000080" stroke-width="0.12" font-size="8.13">7</text>
<line x1="1094.1" y1="485.3" x2="1122" y2="485.3" stroke="#ff0000" stroke-width="1"/>
<text transform="translate(1115,482.90000000000003) scale(0.95,1)" fill="#000000" stroke="#000000" stroke-width="0.12" font-size="8.13" text-anchor="end">8</text>
<text transform="translate(1127.5,488.2) scale(0.95,1)" fill="#000080" stroke="#000080" stroke-width="0.12" font-size="8.13">8</text>
<line x1="1149.2" y1="348.6" x2="1149.2" y2="321.3" stroke="#ff0000" stroke-width="1"/>
<line x1="1149.2" y1="321.3" x2="1149.2" y2="302.8" stroke="#800040" stroke-width="1"/>
<text transform="translate(1146.7,337.6) rotate(-90) scale(0.95,1)" fill="#000000" stroke="#000000" stroke-width="0.12" font-size="8.13" text-anchor="middle">9</text>
<text transform="translate(1153.2,353) rotate(-90) scale(0.95,1)" fill="#000080" stroke="#000080" stroke-width="0.12" font-size="8.56" text-anchor="end">GND</text>
<line x1="1167.4" y1="348.6" x2="1167.4" y2="321.3" stroke="#ff0000" stroke-width="1"/>
<line x1="1167.4" y1="321.3" x2="1167.4" y2="302.8" stroke="#800040" stroke-width="1"/>
<text transform="translate(1164.9,337.6) rotate(-90) scale(0.95,1)" fill="#000000" stroke="#000000" stroke-width="0.12" font-size="8.13" text-anchor="middle">10</text>
<text transform="translate(1171.4,353) rotate(-90) scale(0.95,1)" fill="#000080" stroke="#000080" stroke-width="0.12" font-size="8.56" text-anchor="end">GND</text>
<line x1="1185.7" y1="348.6" x2="1185.7" y2="321.3" stroke="#ff0000" stroke-width="1"/>
<line x1="1185.7" y1="321.3" x2="1185.7" y2="302.8" stroke="#800040" stroke-width="1"/>
<text transform="translate(1183.2,337.6) rotate(-90) scale(0.95,1)" fill="#000000" stroke="#000000" stroke-width="0.12" font-size="8.13" text-anchor="middle">11</text>
<text transform="translate(1189.7,353) rotate(-90) scale(0.95,1)" fill="#000080" stroke="#000080" stroke-width="0.12" font-size="8.56" text-anchor="end">11</text>
<line x1="1203.9" y1="348.6" x2="1203.9" y2="321.3" stroke="#ff0000" stroke-width="1"/>
<line x1="1203.9" y1="321.3" x2="1203.9" y2="302.8" stroke="#800040" stroke-width="1"/>
<text transform="translate(1201.4,337.6) rotate(-90) scale(0.95,1)" fill="#000000" stroke="#000000" stroke-width="0.12" font-size="8.13" text-anchor="middle">12</text>
<text transform="translate(1207.9,353) rotate(-90) scale(0.95,1)" fill="#000080" stroke="#000080" stroke-width="0.12" font-size="8.56" text-anchor="end">12</text>
<line x1="1149.2" y1="302.8" x2="1203.9" y2="302.8" stroke="#800040" stroke-width="1"/>
<circle cx="1149.2" cy="302.8" r="2.35" fill="#ff00ff"/>
<circle cx="1167.4" cy="302.8" r="2.35" fill="#ff00ff"/>
<circle cx="1185.7" cy="302.8" r="2.35" fill="#ff00ff"/>
<line x1="1149.2" y1="302.8" x2="1149.2" y2="293.9" stroke="#800040" stroke-width="1"/>
<polygon points="1139.8,293.9 1158.6000000000001,293.9 1149.2,284.5" fill="none" stroke="#ff0000" stroke-width="1"/>
<text transform="translate(1144.2,284.9) rotate(180)" fill="#ff0000" font-size="6" stroke="#ff0000" stroke-width="0.3">F</text>
<rect x="1140.2" y="448.7" width="73.2" height="45.5" fill="none" stroke="#0000ff" stroke-width="1"/>
<line x1="1176.6" y1="448.7" x2="1176.6" y2="494.2" stroke="#0000ff" stroke-width="1"/>
<text x="1149.7" y="455.2" fill="#5050ff" font-size="7.2" style="font-family:'Liberation Mono',monospace" textLength="25.2" lengthAdjust="spacingAndGlyphs">Yellow</text>
<text x="1186" y="455.2" fill="#5050ff" font-size="7.2" style="font-family:'Liberation Mono',monospace" textLength="21.1" lengthAdjust="spacingAndGlyphs">Green</text>
<line x1="1149.3" y1="494.2" x2="1149.3" y2="522.2" stroke="#ff0000" stroke-width="1"/>
<text transform="translate(1147.0,504.9) rotate(-90) scale(0.95,1)" fill="#000000" stroke="#000000" stroke-width="0.12" font-size="8.13" text-anchor="middle">13</text>
<text transform="translate(1153.5,490) rotate(-90) scale(0.95,1)" fill="#000080" stroke="#000080" stroke-width="0.12" font-size="8.56">LED1+</text>
<line x1="1167.6" y1="494.2" x2="1167.6" y2="522.2" stroke="#ff0000" stroke-width="1"/>
<text transform="translate(1165.3,504.9) rotate(-90) scale(0.95,1)" fill="#000000" stroke="#000000" stroke-width="0.12" font-size="8.13" text-anchor="middle">14</text>
<text transform="translate(1171.8,490) rotate(-90) scale(0.95,1)" fill="#000080" stroke="#000080" stroke-width="0.12" font-size="8.56">LED1-</text>
<line x1="1185.7" y1="494.2" x2="1185.7" y2="522.2" stroke="#ff0000" stroke-width="1"/>
<text transform="translate(1183.4,504.9) rotate(-90) scale(0.95,1)" fill="#000000" stroke="#000000" stroke-width="0.12" font-size="8.13" text-anchor="middle">15</text>
<text transform="translate(1189.9,490) rotate(-90) scale(0.95,1)" fill="#000080" stroke="#000080" stroke-width="0.12" font-size="8.56">LED2+</text>
<line x1="1203.9" y1="494.2" x2="1203.9" y2="522.2" stroke="#ff0000" stroke-width="1"/>
<text transform="translate(1201.6000000000001,504.9) rotate(-90) scale(0.95,1)" fill="#000000" stroke="#000000" stroke-width="0.12" font-size="8.13" text-anchor="middle">16</text>
<text transform="translate(1208.1000000000001,490) rotate(-90) scale(0.95,1)" fill="#000080" stroke="#000080" stroke-width="0.12" font-size="8.56">LED2-</text>
<text transform="translate(1129.4,505.4) scale(0.95,1)" fill="#000080" stroke="#000080" stroke-width="0.12" font-size="8.56">RJ45_LED</text>
<line x1="1149.3" y1="522.2" x2="1149.3" y2="548.7" stroke="#800040" stroke-width="1"/>
<circle cx="1149.3" cy="540" r="2.35" fill="#ff00ff"/>
<line x1="1167.5" y1="522.2" x2="1167.5" y2="548.7" stroke="#800040" stroke-width="1"/>
<circle cx="1167.5" cy="530.8" r="2.35" fill="#ff00ff"/>
<line x1="1185.7" y1="522.2" x2="1185.7" y2="548.7" stroke="#800040" stroke-width="1"/>
<circle cx="1185.7" cy="540" r="2.35" fill="#ff00ff"/>
<line x1="1203.8" y1="522.2" x2="1203.8" y2="548.7" stroke="#800040" stroke-width="1"/>
<circle cx="1203.8" cy="530.8" r="2.35" fill="#ff00ff"/>
<polyline points="1130.7,548.7 1130.7,540 1149.3,540" fill="none" stroke="#800040" stroke-width="1"/>
<polyline points="1112.4,548.7 1112.4,530.8 1167.5,530.8" fill="none" stroke="#800040" stroke-width="1"/>
<polyline points="1222.3,548.7 1222.3,540 1185.7,540" fill="none" stroke="#800040" stroke-width="1"/>
<polyline points="1240.7,548.7 1240.7,530.8 1203.8,530.8" fill="none" stroke="#800040" stroke-width="1"/>
<line x1="1112.4" y1="548.7" x2="1112.4" y2="558" stroke="#ff0000" stroke-width="1"/>
<polyline points="1112.4,558 1115.15,560.72 1109.65,566.16 1115.15,571.6 1109.65,577.04 1115.15,582.48 1112.4,585.2" fill="none" stroke="#0000ff" stroke-width="1"/>
<line x1="1112.4" y1="585.2" x2="1112.4" y2="594" stroke="#ff0000" stroke-width="1"/>
<line x1="1130.7" y1="548.7" x2="1130.7" y2="558" stroke="#ff0000" stroke-width="1"/>
<polyline points="1130.7,558 1133.45,560.72 1127.95,566.16 1133.45,571.6 1127.95,577.04 1133.45,582.48 1130.7,585.2" fill="none" stroke="#0000ff" stroke-width="1"/>
<line x1="1130.7" y1="585.2" x2="1130.7" y2="594" stroke="#ff0000" stroke-width="1"/>
<line x1="1149.3" y1="548.7" x2="1149.3" y2="558" stroke="#ff0000" stroke-width="1"/>
<polyline points="1149.3,558 1152.05,560.72 1146.55,566.16 1152.05,571.6 1146.55,577.04 1152.05,582.48 1149.3,585.2" fill="none" stroke="#0000ff" stroke-width="1"/>
<line x1="1149.3" y1="585.2" x2="1149.3" y2="594" stroke="#ff0000" stroke-width="1"/>
<line x1="1167.5" y1="548.7" x2="1167.5" y2="558" stroke="#ff0000" stroke-width="1"/>
<polyline points="1167.5,558 1170.25,560.72 1164.75,566.16 1170.25,571.6 1164.75,577.04 1170.25,582.48 1167.5,585.2" fill="none" stroke="#0000ff" stroke-width="1"/>
<line x1="1167.5" y1="585.2" x2="1167.5" y2="594" stroke="#ff0000" stroke-width="1"/>
<line x1="1185.7" y1="548.7" x2="1185.7" y2="558" stroke="#ff0000" stroke-width="1"/>
<polyline points="1185.7,558 1188.45,560.72 1182.95,566.16 1188.45,571.6 1182.95,577.04 1188.45,582.48 1185.7,585.2" fill="none" stroke="#0000ff" stroke-width="1"/>
<line x1="1185.7" y1="585.2" x2="1185.7" y2="594" stroke="#ff0000" stroke-width="1"/>
<line x1="1203.8" y1="548.7" x2="1203.8" y2="558" stroke="#ff0000" stroke-width="1"/>
<polyline points="1203.8,558 1206.55,560.72 1201.05,566.16 1206.55,571.6 1201.05,577.04 1206.55,582.48 1203.8,585.2" fill="none" stroke="#0000ff" stroke-width="1"/>
<line x1="1203.8" y1="585.2" x2="1203.8" y2="594" stroke="#ff0000" stroke-width="1"/>
<line x1="1222.3" y1="548.7" x2="1222.3" y2="558" stroke="#ff0000" stroke-width="1"/>
<polyline points="1222.3,558 1225.05,560.72 1219.55,566.16 1225.05,571.6 1219.55,577.04 1225.05,582.48 1222.3,585.2" fill="none" stroke="#0000ff" stroke-width="1"/>
<line x1="1222.3" y1="585.2" x2="1222.3" y2="594" stroke="#ff0000" stroke-width="1"/>
<line x1="1240.7" y1="548.7" x2="1240.7" y2="558" stroke="#ff0000" stroke-width="1"/>
<polyline points="1240.7,558 1243.45,560.72 1237.95,566.16 1243.45,571.6 1237.95,577.04 1243.45,582.48 1240.7,585.2" fill="none" stroke="#0000ff" stroke-width="1"/>
<line x1="1240.7" y1="585.2" x2="1240.7" y2="594" stroke="#ff0000" stroke-width="1"/>
<polyline points="1112.4,594 1112.4,612.8" fill="none" stroke="#800040" stroke-width="1"/>
<line x1="1102.8000000000002" y1="612.8" x2="1122.0" y2="612.8" stroke="#ff0000" stroke-width="1"/>
<line x1="1105.5" y1="615.4" x2="1119.3000000000002" y2="615.4" stroke="#ff0000" stroke-width="1"/>
<line x1="1108.4" y1="618.0999999999999" x2="1116.4" y2="618.0999999999999" stroke="#ff0000" stroke-width="1"/>
<line x1="1111.1000000000001" y1="620.8" x2="1113.7" y2="620.8" stroke="#ff0000" stroke-width="1"/>
<polyline points="1240.7,594 1240.7,612.8" fill="none" stroke="#800040" stroke-width="1"/>
<line x1="1231.1000000000001" y1="612.8" x2="1250.3" y2="612.8" stroke="#ff0000" stroke-width="1"/>
<line x1="1233.8" y1="615.4" x2="1247.6000000000001" y2="615.4" stroke="#ff0000" stroke-width="1"/>
<line x1="1236.7" y1="618.0999999999999" x2="1244.7" y2="618.0999999999999" stroke="#ff0000" stroke-width="1"/>
<line x1="1239.4" y1="620.8" x2="1242.0" y2="620.8" stroke="#ff0000" stroke-width="1"/>
<line x1="1130.7" y1="594" x2="1130.7" y2="612.4" stroke="#800040" stroke-width="1"/>
<line x1="1130.7" y1="612.4" x2="1130.7" y2="616.3" stroke="#ff0000" stroke-width="1"/>
<circle cx="1130.7" cy="619" r="2.6" fill="none" stroke="#ff0000" stroke-width="1"/>
<line x1="1222.3" y1="594" x2="1222.3" y2="612.4" stroke="#800040" stroke-width="1"/>
<line x1="1222.3" y1="612.4" x2="1222.3" y2="616.3" stroke="#ff0000" stroke-width="1"/>
<circle cx="1222.3" cy="619" r="2.6" fill="none" stroke="#ff0000" stroke-width="1"/>
<text transform="translate(1134.7,648.4) rotate(-90) scale(0.95,1)" fill="#000000" stroke="#000000" stroke-width="0.12" font-size="8.56">VDD33</text>
<text transform="translate(1226.3,648.4) rotate(-90) scale(0.95,1)" fill="#000000" stroke="#000000" stroke-width="0.12" font-size="8.56">VDD33</text>
<polyline points="1149.3,594 1149.3,603.6 1167.5,603.6 1167.5,594" fill="none" stroke="#800040" stroke-width="1"/>
<line x1="1158.2" y1="603.6" x2="1158.2" y2="658.6" stroke="#800040" stroke-width="1"/>
<circle cx="1158.2" cy="603.6" r="2.35" fill="#ff00ff"/>
<polyline points="1185.7,594 1185.7,603.6 1203.8,603.6 1203.8,594" fill="none" stroke="#800040" stroke-width="1"/>
<line x1="1194.8" y1="603.6" x2="1194.8" y2="658.6" stroke="#800040" stroke-width="1"/>
<circle cx="1194.8" cy="603.6" r="2.35" fill="#ff00ff"/>
<text transform="translate(1157.2,656.6) rotate(-90) scale(0.95,1)" fill="#ff0000" stroke="#ff0000" stroke-width="0.12" font-size="8.56">LED1/SPISCK</text>
<text transform="translate(1193.8,656.6) rotate(-90) scale(0.95,1)" fill="#ff0000" stroke="#ff0000" stroke-width="0.12" font-size="8.56">LED0/SPICSB</text>
<text transform="translate(1110.9,591.4) rotate(-90) scale(0.95,1)" fill="#000080" stroke="#000080" stroke-width="0.12" font-size="8.56">R14</text>
<text transform="translate(1110.9,573.1) rotate(-90) scale(0.95,1)" fill="#000080" stroke="#000080" stroke-width="0.12" font-size="8.56">0R/0402</text>
<text transform="translate(1129.2,600.6) rotate(-90) scale(0.95,1)" fill="#000080" stroke="#000080" stroke-width="0.12" font-size="8.56">R15</text>
<text transform="translate(1129.2,579.2) rotate(-90) scale(0.95,1)" fill="#000080" stroke="#000080" stroke-width="0.12" font-size="8.56">0R/0402/NC</text>
<text transform="translate(1147.8,600.6) rotate(-90) scale(0.95,1)" fill="#000080" stroke="#000080" stroke-width="0.12" font-size="8.56">R16</text>
<text transform="translate(1147.8,579.2) rotate(-90) scale(0.95,1)" fill="#000080" stroke="#000080" stroke-width="0.12" font-size="8.56">510R/0402</text>
<text transform="translate(1166.0,600.6) rotate(-90) scale(0.95,1)" fill="#000080" stroke="#000080" stroke-width="0.12" font-size="8.56">R17</text>
<text transform="translate(1166.0,579.2) rotate(-90) scale(0.95,1)" fill="#000080" stroke="#000080" stroke-width="0.12" font-size="8.56">510R/0402/NC</text>
<text transform="translate(1184.2,591.4) rotate(-90) scale(0.95,1)" fill="#000080" stroke="#000080" stroke-width="0.12" font-size="8.56">R12</text>
<text transform="translate(1184.2,573) rotate(-90) scale(0.95,1)" fill="#000080" stroke="#000080" stroke-width="0.12" font-size="8.56">510R/0402</text>
<text transform="translate(1202.3,600.6) rotate(-90) scale(0.95,1)" fill="#000080" stroke="#000080" stroke-width="0.12" font-size="8.56">R11</text>
<text transform="translate(1202.3,579.2) rotate(-90) scale(0.95,1)" fill="#000080" stroke="#000080" stroke-width="0.12" font-size="8.56">510R/0402/NC</text>
<text transform="translate(1220.8,600.6) rotate(-90) scale(0.95,1)" fill="#000080" stroke="#000080" stroke-width="0.12" font-size="8.56">R13</text>
<text transform="translate(1220.8,579.2) rotate(-90) scale(0.95,1)" fill="#000080" stroke="#000080" stroke-width="0.12" font-size="8.56">0R/0402/NC</text>
<text transform="translate(1239.2,591.4) rotate(-90) scale(0.95,1)" fill="#000080" stroke="#000080" stroke-width="0.12" font-size="8.56">R10</text>
<text transform="translate(1239.2,573.1) rotate(-90) scale(0.95,1)" fill="#000080" stroke="#000080" stroke-width="0.12" font-size="8.56">0R/0402</text>
<line x1="902.8" y1="521.6" x2="902.8" y2="530.7" stroke="#ff0000" stroke-width="1"/>
<polyline points="902.8,530.7 900.05,533.45 905.55,538.95 900.05,544.45 905.55,549.95 900.05,555.45 902.8,558.2" fill="none" stroke="#0000ff" stroke-width="1"/>
<line x1="902.8" y1="558.2" x2="902.8" y2="567.4" stroke="#ff0000" stroke-width="1"/>
<text transform="translate(891.5999999999999,560.3) rotate(-90) scale(0.95,1)" fill="#000080" stroke="#000080" stroke-width="0.12" font-size="8.56">R5</text>
<text transform="translate(891.5999999999999,540.9) rotate(-90) scale(0.95,1)" fill="#000080" stroke="#000080" stroke-width="0.12" font-size="8.56">75R/0603</text>
<line x1="939.6" y1="521.6" x2="939.6" y2="530.7" stroke="#ff0000" stroke-width="1"/>
<polyline points="939.6,530.7 936.85,533.45 942.35,538.95 936.85,544.45 942.35,549.95 936.85,555.45 939.6,558.2" fill="none" stroke="#0000ff" stroke-width="1"/>
<line x1="939.6" y1="558.2" x2="939.6" y2="567.4" stroke="#ff0000" stroke-width="1"/>
<text transform="translate(928.4,560.3) rotate(-90) scale(0.95,1)" fill="#000080" stroke="#000080" stroke-width="0.12" font-size="8.56">R6</text>
<text transform="translate(928.4,540.9) rotate(-90) scale(0.95,1)" fill="#000080" stroke="#000080" stroke-width="0.12" font-size="8.56">75R/0603</text>
<line x1="902.8" y1="567.4" x2="902.8" y2="585.7" stroke="#800040" stroke-width="1"/>
<polyline points="939.6,567.4 939.6,576.6 902.8,576.6" fill="none" stroke="#800040" stroke-width="1"/>
<circle cx="902.8" cy="576.6" r="2.35" fill="#ff00ff"/>
<line x1="902.8" y1="585.7" x2="902.8" y2="597.4" stroke="#ff0000" stroke-width="1"/>
<line x1="894.9" y1="597.4" x2="910.6999999999999" y2="597.4" stroke="#0000ff" stroke-width="1"/>
<line x1="894.9" y1="602" x2="910.6999999999999" y2="602" stroke="#0000ff" stroke-width="1"/>
<line x1="902.8" y1="602" x2="902.8" y2="612.2" stroke="#ff0000" stroke-width="1"/>
<line x1="902.8" y1="612.2" x2="902.8" y2="630.6" stroke="#800040" stroke-width="1"/>
<polygon points="893.4,630.6 912.1999999999999,630.6 902.8,640.2" fill="none" stroke="#ff0000" stroke-width="1"/>
<text x="907.8" y="641.1" fill="#ff0000" font-size="6" stroke="#ff0000" stroke-width="0.3">F</text>
<text transform="translate(918.5,602) scale(0.95,1)" fill="#000080" stroke="#000080" stroke-width="0.12" font-size="8.56">C18</text>
<text transform="translate(918.5,613.2) scale(0.95,1)" fill="#000080" stroke="#000080" stroke-width="0.12" font-size="8.56">1nF/2000V/1206</text>
<line x1="1039.5" y1="521.6" x2="1039.5" y2="530.7" stroke="#ff0000" stroke-width="1"/>
<polyline points="1039.5,530.7 1036.75,533.45 1042.25,538.95 1036.75,544.45 1042.25,549.95 1036.75,555.45 1039.5,558.2" fill="none" stroke="#0000ff" stroke-width="1"/>
<line x1="1039.5" y1="558.2" x2="1039.5" y2="567.4" stroke="#ff0000" stroke-width="1"/>
<text transform="translate(1028.3,560.3) rotate(-90) scale(0.95,1)" fill="#000080" stroke="#000080" stroke-width="0.12" font-size="8.56">R7</text>
<text transform="translate(1028.3,540.9) rotate(-90) scale(0.95,1)" fill="#000080" stroke="#000080" stroke-width="0.12" font-size="8.56">75R/0603</text>
<line x1="1067.1" y1="521.6" x2="1067.1" y2="530.7" stroke="#ff0000" stroke-width="1"/>
<polyline points="1067.1,530.7 1064.35,533.45 1069.85,538.95 1064.35,544.45 1069.85,549.95 1064.35,555.45 1067.1,558.2" fill="none" stroke="#0000ff" stroke-width="1"/>
<line x1="1067.1" y1="558.2" x2="1067.1" y2="567.4" stroke="#ff0000" stroke-width="1"/>
<text transform="translate(1055.8999999999999,560.3) rotate(-90) scale(0.95,1)" fill="#000080" stroke="#000080" stroke-width="0.12" font-size="8.56">R8</text>
<text transform="translate(1055.8999999999999,540.9) rotate(-90) scale(0.95,1)" fill="#000080" stroke="#000080" stroke-width="0.12" font-size="8.56">75R/0603</text>
<line x1="1039.5" y1="567.4" x2="1039.5" y2="585.7" stroke="#800040" stroke-width="1"/>
<polyline points="1067.1,567.4 1067.1,576.6 1039.5,576.6" fill="none" stroke="#800040" stroke-width="1"/>
<circle cx="1039.5" cy="576.6" r="2.35" fill="#ff00ff"/>
<line x1="1039.5" y1="585.7" x2="1039.5" y2="597.4" stroke="#ff0000" stroke-width="1"/>
<line x1="1031.6" y1="597.4" x2="1047.4" y2="597.4" stroke="#0000ff" stroke-width="1"/>
<line x1="1031.6" y1="602" x2="1047.4" y2="602" stroke="#0000ff" stroke-width="1"/>
<line x1="1039.5" y1="602" x2="1039.5" y2="612.2" stroke="#ff0000" stroke-width="1"/>
<line x1="1039.5" y1="612.2" x2="1039.5" y2="630.6" stroke="#800040" stroke-width="1"/>
<polygon points="1030.1,630.6 1048.9,630.6 1039.5,640.2" fill="none" stroke="#ff0000" stroke-width="1"/>
<text x="1044.5" y="641.1" fill="#ff0000" font-size="6" stroke="#ff0000" stroke-width="0.3">F</text>
<text transform="translate(1022.2,592.9) scale(0.95,1)" fill="#000080" stroke="#000080" stroke-width="0.12" font-size="8.56">C19</text>
<text transform="translate(1003.9,610.2) scale(0.95,1)" fill="#000080" stroke="#000080" stroke-width="0.12" font-size="8.56">1nF/2000V/1206</text>
<polyline points="711,576.2 684.2,576.2 684.2,630.9" fill="none" stroke="#800040" stroke-width="1"/>
<line x1="711" y1="576.2" x2="720.9" y2="576.2" stroke="#ff0000" stroke-width="1"/>
<polyline points="720.5,576.2 723.23,578.95 728.69,573.45 734.15,578.95 739.61,573.45 745.07,578.95 747.8,576.2" fill="none" stroke="#0000ff" stroke-width="1"/>
<line x1="747.8" y1="576.2" x2="757.8" y2="576.2" stroke="#ff0000" stroke-width="1"/>
<polyline points="757.8,576.2 775.3,576.2 775.3,630.9" fill="none" stroke="#800040" stroke-width="1"/>
<line x1="684.2" y1="603.8" x2="720.2" y2="603.8" stroke="#800040" stroke-width="1"/>
<line x1="720.2" y1="603.8" x2="732.6" y2="603.8" stroke="#ff0000" stroke-width="1"/>
<line x1="732.6" y1="596.05" x2="732.6" y2="611.55" stroke="#0000ff" stroke-width="1"/>
<line x1="737.2" y1="596.05" x2="737.2" y2="611.55" stroke="#0000ff" stroke-width="1"/>
<line x1="737.2" y1="603.8" x2="748.6" y2="603.8" stroke="#ff0000" stroke-width="1"/>
<line x1="748.6" y1="603.8" x2="775.3" y2="603.8" stroke="#800040" stroke-width="1"/>
<circle cx="684.2" cy="603.8" r="2.35" fill="#ff00ff"/>
<circle cx="775.3" cy="603.8" r="2.35" fill="#ff00ff"/>
<line x1="674.6" y1="630.9" x2="693.8000000000001" y2="630.9" stroke="#ff0000" stroke-width="1"/>
<line x1="677.3000000000001" y1="633.5" x2="691.1" y2="633.5" stroke="#ff0000" stroke-width="1"/>
<line x1="680.2" y1="636.1999999999999" x2="688.2" y2="636.1999999999999" stroke="#ff0000" stroke-width="1"/>
<line x1="682.9000000000001" y1="638.9" x2="685.5" y2="638.9" stroke="#ff0000" stroke-width="1"/>
<polygon points="765.9,630.9 784.6999999999999,630.9 775.3,640.5" fill="none" stroke="#ff0000" stroke-width="1"/>
<text x="780.3" y="641.4" fill="#ff0000" font-size="6" stroke="#ff0000" stroke-width="0.3">F</text>
<text transform="translate(712,565.6) scale(0.95,1)" fill="#000080" stroke="#000080" stroke-width="0.12" font-size="8.56">R9</text>
<text transform="translate(738,565.6) scale(0.95,1)" fill="#000080" stroke="#000080" stroke-width="0.12" font-size="8.56">0R/1206</text>
<text transform="translate(701.8,592.7) scale(0.95,1)" fill="#000080" stroke="#000080" stroke-width="0.12" font-size="8.56">C20</text>
<text transform="translate(720.5,592.7) scale(0.95,1)" fill="#000080" stroke="#000080" stroke-width="0.12" font-size="8.56">1nF/2000V/1206</text>
</svg>
</body></html>
